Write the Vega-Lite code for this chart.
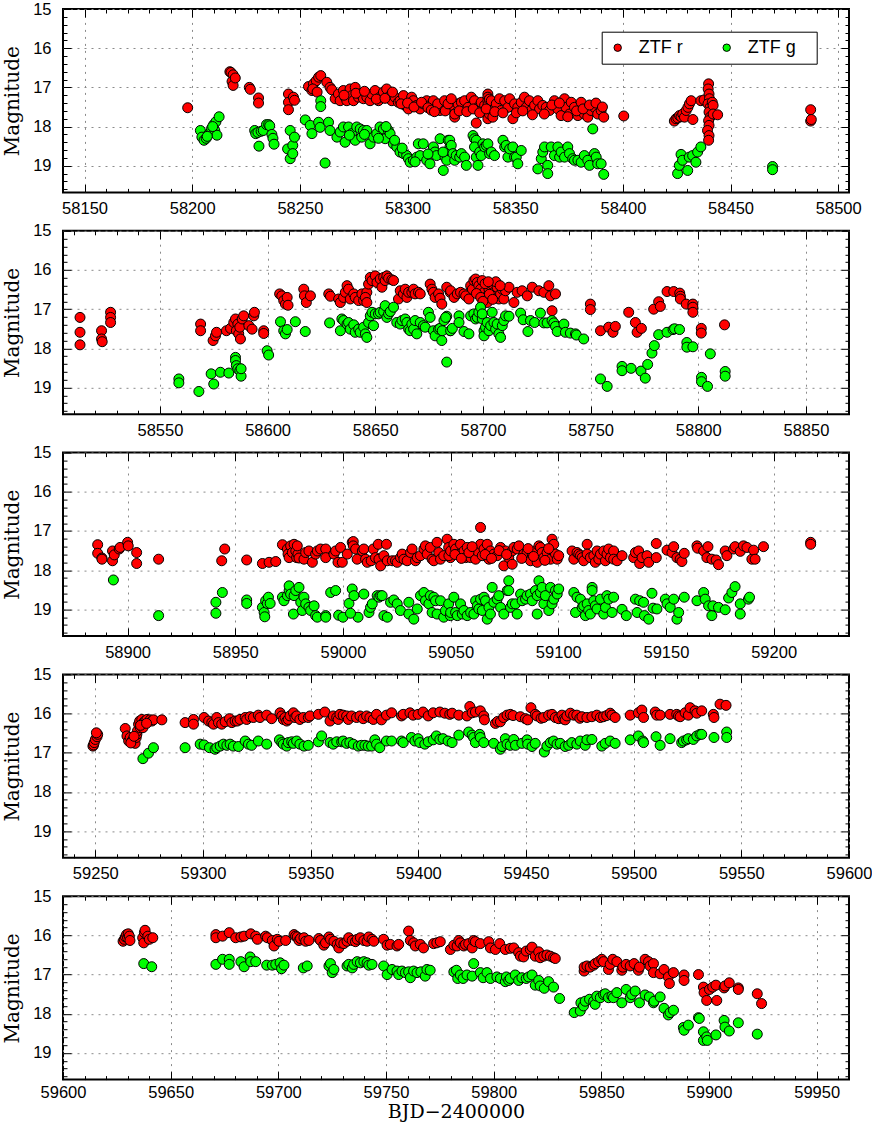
{
"$schema": "https://vega.github.io/schema/vega-lite/v6.json",
"background": "white",
"padding": {"left": 1, "top": 0, "right": 0, "bottom": 0},
"bounds": "flush",
"spacing": 37.8,
"datasets": {
"p1": [
{"d":58197.9,"m":17.52,"b":"ZTF r"},{"d":58217.5,"m":16.6,"b":"ZTF r"},{"d":58218,"m":16.62,"b":"ZTF r"},{"d":58219,"m":16.68,"b":"ZTF r"},{"d":58218.5,"m":16.85,"b":"ZTF r"},{"d":58219,"m":16.95,"b":"ZTF r"},{"d":58220,"m":16.76,"b":"ZTF r"},{"d":58226.5,"m":17.0,"b":"ZTF r"},{"d":58227,"m":17.05,"b":"ZTF r"},{"d":58230.8,"m":17.27,"b":"ZTF r"},{"d":58230.8,"m":17.4,"b":"ZTF r"},{"d":58244.7,"m":17.17,"b":"ZTF r"},{"d":58244.7,"m":17.38,"b":"ZTF r"},{"d":58244.7,"m":17.57,"b":"ZTF r"},{"d":58247,"m":17.25,"b":"ZTF r"},{"d":58247.5,"m":17.33,"b":"ZTF r"},{"d":58254,"m":16.98,"b":"ZTF r"},{"d":58255.6,"m":17.08,"b":"ZTF r"},{"d":58256.3,"m":16.91,"b":"ZTF r"},{"d":58257.6,"m":16.83,"b":"ZTF r"},{"d":58258.7,"m":16.74,"b":"ZTF r"},{"d":58259.7,"m":16.7,"b":"ZTF r"},{"d":58256,"m":17.04,"b":"ZTF r"},{"d":58258,"m":17.12,"b":"ZTF r"},{"d":58262.5,"m":16.87,"b":"ZTF r"},{"d":58264,"m":17.0,"b":"ZTF r"},{"d":58264.8,"m":17.06,"b":"ZTF r"},
{"d":58266.4,"m":17.29,"b":"ZTF r"},{"d":58267.9,"m":17.17,"b":"ZTF r"},{"d":58268.7,"m":17.34,"b":"ZTF r"},{"d":58270.2,"m":17.08,"b":"ZTF r"},{"d":58271,"m":17.25,"b":"ZTF r"},{"d":58271.8,"m":17.34,"b":"ZTF r"},{"d":58273.3,"m":17.04,"b":"ZTF r"},{"d":58274.1,"m":17.21,"b":"ZTF r"},{"d":58274.9,"m":17.34,"b":"ZTF r"},{"d":58275.7,"m":17.0,"b":"ZTF r"},{"d":58277.2,"m":17.25,"b":"ZTF r"},{"d":58278,"m":17.17,"b":"ZTF r"},{"d":58279.5,"m":17.29,"b":"ZTF r"},{"d":58281.1,"m":17.25,"b":"ZTF r"},{"d":58282.6,"m":17.34,"b":"ZTF r"},{"d":58283.4,"m":17.17,"b":"ZTF r"},{"d":58284.9,"m":17.08,"b":"ZTF r"},{"d":58286.5,"m":17.34,"b":"ZTF r"},{"d":58287.2,"m":17.25,"b":"ZTF r"},{"d":58288.8,"m":17.12,"b":"ZTF r"},{"d":58290.3,"m":17.04,"b":"ZTF r"},{"d":58291.9,"m":17.21,"b":"ZTF r"},{"d":58292.7,"m":17.34,"b":"ZTF r"},{"d":58294.2,"m":17.25,"b":"ZTF r"},{"d":58295.7,"m":17.38,"b":"ZTF r"},{"d":58296.5,"m":17.34,"b":"ZTF r"},{"d":58298.1,"m":17.21,"b":"ZTF r"},{"d":58298.8,"m":17.46,"b":"ZTF r"},{"d":58300.4,"m":17.55,"b":"ZTF r"},{"d":58301.9,"m":17.25,"b":"ZTF r"},{"d":58302.7,"m":17.34,"b":"ZTF r"},{"d":58304.3,"m":17.46,"b":"ZTF r"},{"d":58305.8,"m":17.55,"b":"ZTF r"},{"d":58307.3,"m":17.42,"b":"ZTF r"},{"d":58308.9,"m":17.34,"b":"ZTF r"},{"d":58310.4,"m":17.46,"b":"ZTF r"},{"d":58312,"m":17.34,"b":"ZTF r"},{"d":58313.5,"m":17.51,"b":"ZTF r"},{"d":58315.1,"m":17.59,"b":"ZTF r"},{"d":58316.6,"m":17.51,"b":"ZTF r"},{"d":58318.2,"m":17.38,"b":"ZTF r"},{"d":58319.7,"m":17.46,"b":"ZTF r"},
{"d":58270.5,"m":17.2,"b":"ZTF r"},{"d":58276,"m":17.15,"b":"ZTF r"},{"d":58280,"m":17.1,"b":"ZTF r"},{"d":58285.5,"m":17.3,"b":"ZTF r"},{"d":58289.5,"m":17.28,"b":"ZTF r"},{"d":58293,"m":17.12,"b":"ZTF r"},{"d":58297,"m":17.42,"b":"ZTF r"},{"d":58300,"m":17.4,"b":"ZTF r"},{"d":58303,"m":17.5,"b":"ZTF r"},{"d":58306.5,"m":17.38,"b":"ZTF r"},{"d":58309.5,"m":17.52,"b":"ZTF r"},{"d":58311,"m":17.58,"b":"ZTF r"},{"d":58314,"m":17.42,"b":"ZTF r"},{"d":58317.5,"m":17.6,"b":"ZTF r"},{"d":58312.5,"m":17.62,"b":"ZTF r"},
{"d":58321.9,"m":17.76,"b":"ZTF r"},{"d":58321.9,"m":17.68,"b":"ZTF r"},{"d":58323.4,"m":17.42,"b":"ZTF r"},{"d":58325,"m":17.38,"b":"ZTF r"},{"d":58326.5,"m":17.34,"b":"ZTF r"},{"d":58328.1,"m":17.51,"b":"ZTF r"},{"d":58329.6,"m":17.25,"b":"ZTF r"},{"d":58331.1,"m":17.34,"b":"ZTF r"},{"d":58331.9,"m":17.91,"b":"ZTF r"},{"d":58332.7,"m":17.51,"b":"ZTF r"},{"d":58334.2,"m":17.38,"b":"ZTF r"},{"d":58335.8,"m":17.46,"b":"ZTF r"},{"d":58337.3,"m":17.17,"b":"ZTF r"},{"d":58337.3,"m":17.25,"b":"ZTF r"},{"d":58337.3,"m":17.34,"b":"ZTF r"},{"d":58337.3,"m":17.46,"b":"ZTF r"},{"d":58337.3,"m":17.59,"b":"ZTF r"},{"d":58337.3,"m":17.72,"b":"ZTF r"},{"d":58337.3,"m":17.8,"b":"ZTF r"},{"d":58338,"m":17.3,"b":"ZTF r"},{"d":58338,"m":17.52,"b":"ZTF r"},{"d":58338,"m":17.68,"b":"ZTF r"},{"d":58338.9,"m":17.34,"b":"ZTF r"},{"d":58339.6,"m":17.76,"b":"ZTF r"},{"d":58341.2,"m":17.42,"b":"ZTF r"},{"d":58342.7,"m":17.29,"b":"ZTF r"},{"d":58343.5,"m":17.59,"b":"ZTF r"},{"d":58345.1,"m":17.34,"b":"ZTF r"},{"d":58346.6,"m":17.51,"b":"ZTF r"},{"d":58347.4,"m":17.29,"b":"ZTF r"},{"d":58348.9,"m":17.8,"b":"ZTF r"},{"d":58349.7,"m":17.42,"b":"ZTF r"},{"d":58351.2,"m":17.51,"b":"ZTF r"},{"d":58352.8,"m":17.38,"b":"ZTF r"},{"d":58354.3,"m":17.25,"b":"ZTF r"},{"d":58355.1,"m":17.51,"b":"ZTF r"},{"d":58356.6,"m":17.34,"b":"ZTF r"},{"d":58357.4,"m":17.59,"b":"ZTF r"},{"d":58359,"m":17.46,"b":"ZTF r"},{"d":58360.5,"m":17.34,"b":"ZTF r"},{"d":58361.3,"m":17.55,"b":"ZTF r"},{"d":58362.8,"m":17.46,"b":"ZTF r"},{"d":58364.4,"m":17.51,"b":"ZTF r"},{"d":58365.9,"m":17.59,"b":"ZTF r"},{"d":58368.2,"m":17.34,"b":"ZTF r"},{"d":58369.8,"m":17.55,"b":"ZTF r"},{"d":58371.3,"m":17.72,"b":"ZTF r"},{"d":58372.9,"m":17.29,"b":"ZTF r"},{"d":58373.6,"m":17.51,"b":"ZTF r"},{"d":58375.2,"m":17.68,"b":"ZTF r"},{"d":58376,"m":17.38,"b":"ZTF r"},{"d":58377.5,"m":17.51,"b":"ZTF r"},{"d":58379.1,"m":17.72,"b":"ZTF r"},{"d":58380.6,"m":17.38,"b":"ZTF r"},{"d":58382.1,"m":17.68,"b":"ZTF r"},{"d":58383.7,"m":17.76,"b":"ZTF r"},{"d":58385.2,"m":17.59,"b":"ZTF r"},{"d":58386.8,"m":17.51,"b":"ZTF r"},{"d":58388.3,"m":17.68,"b":"ZTF r"},{"d":58389.9,"m":17.59,"b":"ZTF r"},{"d":58391.1,"m":17.76,"b":"ZTF r"},
{"d":58317.2,"m":17.34,"b":"ZTF r"},{"d":58318.8,"m":17.42,"b":"ZTF r"},{"d":58320.3,"m":17.29,"b":"ZTF r"},{"d":58324,"m":17.6,"b":"ZTF r"},{"d":58327.5,"m":17.62,"b":"ZTF r"},{"d":58330.5,"m":17.55,"b":"ZTF r"},{"d":58333.5,"m":17.65,"b":"ZTF r"},{"d":58336.5,"m":17.55,"b":"ZTF r"},{"d":58340.5,"m":17.62,"b":"ZTF r"},{"d":58344.3,"m":17.65,"b":"ZTF r"},{"d":58350.5,"m":17.65,"b":"ZTF r"},{"d":58353.5,"m":17.6,"b":"ZTF r"},{"d":58358,"m":17.7,"b":"ZTF r"},{"d":58363.5,"m":17.68,"b":"ZTF r"},{"d":58367,"m":17.45,"b":"ZTF r"},{"d":58370.5,"m":17.4,"b":"ZTF r"},{"d":58374.4,"m":17.75,"b":"ZTF r"},{"d":58378.5,"m":17.6,"b":"ZTF r"},{"d":58381.5,"m":17.55,"b":"ZTF r"},{"d":58384.5,"m":17.45,"b":"ZTF r"},{"d":58387.5,"m":17.4,"b":"ZTF r"},{"d":58390.5,"m":17.5,"b":"ZTF r"},
{"d":58400.4,"m":17.73,"b":"ZTF r"},
{"d":58423.9,"m":17.86,"b":"ZTF r"},{"d":58424.7,"m":17.8,"b":"ZTF r"},{"d":58425.5,"m":17.78,"b":"ZTF r"},{"d":58426.3,"m":17.72,"b":"ZTF r"},{"d":58427,"m":17.75,"b":"ZTF r"},{"d":58427.8,"m":17.68,"b":"ZTF r"},{"d":58428.6,"m":17.76,"b":"ZTF r"},{"d":58429.4,"m":17.59,"b":"ZTF r"},{"d":58430.2,"m":17.51,"b":"ZTF r"},{"d":58430.9,"m":17.42,"b":"ZTF r"},{"d":58431.7,"m":17.34,"b":"ZTF r"},{"d":58432.5,"m":17.82,"b":"ZTF r"},
{"d":58436.2,"m":17.34,"b":"ZTF r"},{"d":58437.7,"m":17.32,"b":"ZTF r"},{"d":58439.8,"m":16.91,"b":"ZTF r"},{"d":58439.6,"m":17.04,"b":"ZTF r"},{"d":58440,"m":17.17,"b":"ZTF r"},{"d":58440.2,"m":17.29,"b":"ZTF r"},{"d":58439.5,"m":17.42,"b":"ZTF r"},{"d":58440.5,"m":17.51,"b":"ZTF r"},{"d":58440,"m":17.63,"b":"ZTF r"},{"d":58440.5,"m":17.76,"b":"ZTF r"},{"d":58439.8,"m":17.85,"b":"ZTF r"},{"d":58440,"m":17.97,"b":"ZTF r"},{"d":58439.3,"m":18.1,"b":"ZTF r"},{"d":58440,"m":18.23,"b":"ZTF r"},{"d":58439.8,"m":18.35,"b":"ZTF r"},{"d":58441.5,"m":17.38,"b":"ZTF r"},{"d":58441.9,"m":17.46,"b":"ZTF r"},{"d":58441.9,"m":17.68,"b":"ZTF r"},{"d":58444,"m":17.7,"b":"ZTF r"},
{"d":58487.2,"m":17.57,"b":"ZTF r"},{"d":58487.2,"m":17.86,"b":"ZTF r"},{"d":58487.5,"m":17.82,"b":"ZTF r"},
{"d":58203.8,"m":18.1,"b":"ZTF g"},{"d":58204.5,"m":18.27,"b":"ZTF g"},{"d":58205.5,"m":18.35,"b":"ZTF g"},{"d":58206.5,"m":18.3,"b":"ZTF g"},{"d":58207.5,"m":18.2,"b":"ZTF g"},{"d":58208.5,"m":18.15,"b":"ZTF g"},{"d":58209,"m":18.05,"b":"ZTF g"},{"d":58210,"m":17.95,"b":"ZTF g"},{"d":58210.5,"m":18.1,"b":"ZTF g"},{"d":58211,"m":17.88,"b":"ZTF g"},{"d":58211.5,"m":18.22,"b":"ZTF g"},{"d":58212.5,"m":17.75,"b":"ZTF g"},{"d":58207,"m":18.25,"b":"ZTF g"},{"d":58209.5,"m":18.0,"b":"ZTF g"},
{"d":58229,"m":18.1,"b":"ZTF g"},{"d":58229.5,"m":18.18,"b":"ZTF g"},{"d":58230.5,"m":18.15,"b":"ZTF g"},{"d":58231,"m":18.5,"b":"ZTF g"},{"d":58232,"m":18.12,"b":"ZTF g"},{"d":58233,"m":18.1,"b":"ZTF g"},{"d":58234.5,"m":17.95,"b":"ZTF g"},{"d":58235.5,"m":17.95,"b":"ZTF g"},{"d":58236,"m":17.98,"b":"ZTF g"},{"d":58237,"m":18.2,"b":"ZTF g"},{"d":58237.5,"m":18.3,"b":"ZTF g"},{"d":58238,"m":18.45,"b":"ZTF g"},
{"d":58244.3,"m":18.57,"b":"ZTF g"},{"d":58245.5,"m":18.82,"b":"ZTF g"},{"d":58245.5,"m":18.1,"b":"ZTF g"},{"d":58246.7,"m":18.48,"b":"ZTF g"},{"d":58246.7,"m":18.69,"b":"ZTF g"},{"d":58247.5,"m":18.27,"b":"ZTF g"},
{"d":58252.5,"m":17.83,"b":"ZTF g"},{"d":58254.8,"m":17.97,"b":"ZTF g"},{"d":58255.6,"m":18.18,"b":"ZTF g"},{"d":58258.7,"m":17.89,"b":"ZTF g"},{"d":58259.4,"m":18.02,"b":"ZTF g"},{"d":58259.7,"m":17.34,"b":"ZTF g"},{"d":58259.7,"m":17.49,"b":"ZTF g"},{"d":58261.7,"m":18.93,"b":"ZTF g"},{"d":58263.3,"m":17.89,"b":"ZTF g"},{"d":58264,"m":18.1,"b":"ZTF g"},
{"d":58267.2,"m":18.27,"b":"ZTF g"},{"d":58268.7,"m":18.14,"b":"ZTF g"},{"d":58270.2,"m":18.01,"b":"ZTF g"},{"d":58271,"m":18.4,"b":"ZTF g"},{"d":58272.6,"m":18.01,"b":"ZTF g"},{"d":58274.1,"m":18.18,"b":"ZTF g"},{"d":58275.7,"m":18.35,"b":"ZTF g"},{"d":58276.4,"m":18.01,"b":"ZTF g"},{"d":58278,"m":18.06,"b":"ZTF g"},{"d":58278.7,"m":18.27,"b":"ZTF g"},{"d":58279.5,"m":18.1,"b":"ZTF g"},{"d":58281.1,"m":18.1,"b":"ZTF g"},{"d":58282.6,"m":18.44,"b":"ZTF g"},{"d":58284.2,"m":18.27,"b":"ZTF g"},{"d":58285.7,"m":18.18,"b":"ZTF g"},{"d":58287.2,"m":18.01,"b":"ZTF g"},{"d":58288.8,"m":18.06,"b":"ZTF g"},{"d":58289.6,"m":18.31,"b":"ZTF g"},{"d":58291.1,"m":18.1,"b":"ZTF g"},{"d":58291.9,"m":18.18,"b":"ZTF g"},{"d":58293.4,"m":18.44,"b":"ZTF g"},{"d":58295,"m":18.52,"b":"ZTF g"},{"d":58296.5,"m":18.65,"b":"ZTF g"},{"d":58298.1,"m":18.69,"b":"ZTF g"},{"d":58299.6,"m":18.74,"b":"ZTF g"},{"d":58300.4,"m":18.82,"b":"ZTF g"},{"d":58301.2,"m":18.91,"b":"ZTF g"},{"d":58302.7,"m":18.86,"b":"ZTF g"},{"d":58304.3,"m":18.78,"b":"ZTF g"},{"d":58305,"m":18.44,"b":"ZTF g"},{"d":58305.8,"m":18.74,"b":"ZTF g"},{"d":58307.3,"m":18.44,"b":"ZTF g"},{"d":58308.9,"m":18.86,"b":"ZTF g"},{"d":58310.4,"m":18.95,"b":"ZTF g"},{"d":58312,"m":18.52,"b":"ZTF g"},{"d":58312.7,"m":18.65,"b":"ZTF g"},{"d":58313.5,"m":18.74,"b":"ZTF g"},{"d":58315.1,"m":18.31,"b":"ZTF g"},{"d":58316.6,"m":19.12,"b":"ZTF g"},{"d":58317.4,"m":18.78,"b":"ZTF g"},{"d":58318.2,"m":18.86,"b":"ZTF g"},{"d":58318.9,"m":18.35,"b":"ZTF g"},{"d":58319.7,"m":18.52,"b":"ZTF g"},
{"d":58273,"m":18.22,"b":"ZTF g"},{"d":58280,"m":18.2,"b":"ZTF g"},{"d":58286.5,"m":18.3,"b":"ZTF g"},{"d":58290,"m":18.0,"b":"ZTF g"},{"d":58294,"m":18.35,"b":"ZTF g"},{"d":58297.5,"m":18.55,"b":"ZTF g"},{"d":58303.5,"m":18.9,"b":"ZTF g"},{"d":58309.5,"m":18.7,"b":"ZTF g"},
{"d":58316.5,"m":18.65,"b":"ZTF g"},{"d":58319.6,"m":18.35,"b":"ZTF g"},{"d":58320.3,"m":18.48,"b":"ZTF g"},{"d":58321.1,"m":18.69,"b":"ZTF g"},{"d":58321.9,"m":18.86,"b":"ZTF g"},{"d":58322.6,"m":18.74,"b":"ZTF g"},{"d":58324.2,"m":18.78,"b":"ZTF g"},{"d":58325,"m":18.69,"b":"ZTF g"},{"d":58326.5,"m":18.78,"b":"ZTF g"},{"d":58327.3,"m":18.99,"b":"ZTF g"},{"d":58330.4,"m":18.23,"b":"ZTF g"},{"d":58331.1,"m":18.31,"b":"ZTF g"},{"d":58331.9,"m":18.35,"b":"ZTF g"},{"d":58331.1,"m":18.52,"b":"ZTF g"},{"d":58331.9,"m":18.78,"b":"ZTF g"},{"d":58332.7,"m":18.99,"b":"ZTF g"},{"d":58333.5,"m":18.65,"b":"ZTF g"},{"d":58334.2,"m":18.74,"b":"ZTF g"},{"d":58335,"m":18.44,"b":"ZTF g"},{"d":58335.8,"m":18.52,"b":"ZTF g"},{"d":58336.6,"m":18.48,"b":"ZTF g"},{"d":58337.3,"m":18.44,"b":"ZTF g"},{"d":58338.1,"m":18.69,"b":"ZTF g"},{"d":58338.9,"m":18.65,"b":"ZTF g"},{"d":58340.4,"m":18.74,"b":"ZTF g"},{"d":58344.3,"m":18.35,"b":"ZTF g"},{"d":58345.1,"m":18.52,"b":"ZTF g"},{"d":58345.8,"m":18.48,"b":"ZTF g"},{"d":58346.6,"m":18.78,"b":"ZTF g"},{"d":58347.4,"m":18.57,"b":"ZTF g"},{"d":58348.9,"m":18.52,"b":"ZTF g"},{"d":58349.7,"m":18.78,"b":"ZTF g"},{"d":58350.5,"m":18.78,"b":"ZTF g"},{"d":58351.2,"m":18.95,"b":"ZTF g"},{"d":58352.8,"m":18.61,"b":"ZTF g"},{"d":58360.5,"m":19.08,"b":"ZTF g"},{"d":58362.1,"m":18.82,"b":"ZTF g"},{"d":58362.8,"m":18.65,"b":"ZTF g"},{"d":58363.6,"m":18.52,"b":"ZTF g"},{"d":58365.1,"m":18.99,"b":"ZTF g"},{"d":58365.1,"m":19.2,"b":"ZTF g"},{"d":58366.7,"m":18.52,"b":"ZTF g"},{"d":58368.2,"m":18.74,"b":"ZTF g"},{"d":58369.8,"m":18.52,"b":"ZTF g"},{"d":58370.6,"m":18.78,"b":"ZTF g"},{"d":58371.3,"m":18.65,"b":"ZTF g"},{"d":58372.9,"m":18.78,"b":"ZTF g"},{"d":58374.4,"m":18.52,"b":"ZTF g"},{"d":58375.2,"m":18.69,"b":"ZTF g"},{"d":58376.7,"m":18.82,"b":"ZTF g"},{"d":58377.5,"m":18.86,"b":"ZTF g"},{"d":58379.1,"m":18.86,"b":"ZTF g"},{"d":58380.6,"m":18.91,"b":"ZTF g"},{"d":58382.1,"m":18.74,"b":"ZTF g"},{"d":58383.7,"m":18.86,"b":"ZTF g"},{"d":58384.5,"m":18.99,"b":"ZTF g"},{"d":58386,"m":18.06,"b":"ZTF g"},{"d":58386.8,"m":18.69,"b":"ZTF g"},{"d":58387.6,"m":18.78,"b":"ZTF g"},{"d":58388.3,"m":18.95,"b":"ZTF g"},{"d":58389.9,"m":18.95,"b":"ZTF g"},{"d":58391.1,"m":19.22,"b":"ZTF g"},
{"d":58425.4,"m":19.2,"b":"ZTF g"},{"d":58426.2,"m":18.99,"b":"ZTF g"},{"d":58427,"m":18.71,"b":"ZTF g"},{"d":58427.7,"m":18.86,"b":"ZTF g"},{"d":58430.1,"m":19.12,"b":"ZTF g"},{"d":58430.8,"m":18.78,"b":"ZTF g"},{"d":58432.4,"m":18.74,"b":"ZTF g"},{"d":58433.9,"m":18.91,"b":"ZTF g"},{"d":58434.7,"m":18.65,"b":"ZTF g"},{"d":58436.2,"m":18.52,"b":"ZTF g"},{"d":58469.5,"m":19.02,"b":"ZTF g"},{"d":58469.5,"m":19.1,"b":"ZTF g"}
],
"p2": [
{"d":58512.9,"m":17.21,"b":"ZTF r"},{"d":58512.9,"m":17.59,"b":"ZTF r"},{"d":58512.9,"m":17.91,"b":"ZTF r"},{"d":58522.9,"m":17.55,"b":"ZTF r"},{"d":58522.9,"m":17.76,"b":"ZTF r"},{"d":58523.2,"m":17.83,"b":"ZTF r"},{"d":58527.1,"m":17.08,"b":"ZTF r"},{"d":58527.1,"m":17.21,"b":"ZTF r"},{"d":58527.1,"m":17.34,"b":"ZTF r"},{"d":58568.9,"m":17.38,"b":"ZTF r"},{"d":58568.9,"m":17.55,"b":"ZTF r"},{"d":58574.7,"m":17.8,"b":"ZTF r"},{"d":58575.8,"m":17.68,"b":"ZTF r"},{"d":58576.3,"m":17.59,"b":"ZTF r"},{"d":58580.9,"m":17.55,"b":"ZTF r"},{"d":58582.8,"m":17.49,"b":"ZTF r"},{"d":58584.3,"m":17.34,"b":"ZTF r"},{"d":58585.1,"m":17.25,"b":"ZTF r"},{"d":58586.2,"m":17.38,"b":"ZTF r"},{"d":58585.5,"m":17.55,"b":"ZTF r"},{"d":58586.6,"m":17.63,"b":"ZTF r"},{"d":58587.4,"m":17.76,"b":"ZTF r"},{"d":58587.1,"m":17.46,"b":"ZTF r"},{"d":58588.2,"m":17.25,"b":"ZTF r"},{"d":58588.9,"m":17.17,"b":"ZTF r"},{"d":58591.3,"m":17.42,"b":"ZTF r"},{"d":58592.8,"m":17.51,"b":"ZTF r"},{"d":58593.6,"m":17.17,"b":"ZTF r"},{"d":58593.9,"m":17.08,"b":"ZTF r"},{"d":58598.2,"m":17.55,"b":"ZTF r"},{"d":58598.2,"m":17.62,"b":"ZTF r"},
{"d":58605.6,"m":16.61,"b":"ZTF r"},{"d":58606.6,"m":16.66,"b":"ZTF r"},{"d":58607.5,"m":16.78,"b":"ZTF r"},{"d":58608.3,"m":16.87,"b":"ZTF r"},{"d":58609.1,"m":16.7,"b":"ZTF r"},{"d":58609.5,"m":16.9,"b":"ZTF r"},{"d":58616.8,"m":16.49,"b":"ZTF r"},{"d":58617.1,"m":16.66,"b":"ZTF r"},{"d":58618,"m":16.83,"b":"ZTF r"},{"d":58619.9,"m":16.66,"b":"ZTF r"},{"d":58628.4,"m":16.61,"b":"ZTF r"},{"d":58629.2,"m":16.67,"b":"ZTF r"},
{"d":58633,"m":16.74,"b":"ZTF r"},{"d":58633.8,"m":16.83,"b":"ZTF r"},{"d":58635.3,"m":16.7,"b":"ZTF r"},{"d":58636.1,"m":16.57,"b":"ZTF r"},{"d":58636.9,"m":16.4,"b":"ZTF r"},{"d":58637.6,"m":16.49,"b":"ZTF r"},{"d":58638.4,"m":16.74,"b":"ZTF r"},{"d":58640,"m":16.61,"b":"ZTF r"},{"d":58640.7,"m":16.7,"b":"ZTF r"},{"d":58642.3,"m":16.78,"b":"ZTF r"},{"d":58643.8,"m":16.61,"b":"ZTF r"},{"d":58644.6,"m":16.78,"b":"ZTF r"},{"d":58646.1,"m":16.57,"b":"ZTF r"},{"d":58645.4,"m":16.7,"b":"ZTF r"},{"d":58646.1,"m":16.83,"b":"ZTF r"},
{"d":58646.9,"m":16.36,"b":"ZTF r"},{"d":58647.7,"m":16.19,"b":"ZTF r"},{"d":58648.5,"m":16.27,"b":"ZTF r"},{"d":58650,"m":16.15,"b":"ZTF r"},{"d":58650.8,"m":16.32,"b":"ZTF r"},{"d":58652.3,"m":16.23,"b":"ZTF r"},{"d":58653.1,"m":16.44,"b":"ZTF r"},{"d":58653.9,"m":16.19,"b":"ZTF r"},{"d":58654.6,"m":16.27,"b":"ZTF r"},{"d":58655.4,"m":16.15,"b":"ZTF r"},{"d":58656.2,"m":16.21,"b":"ZTF r"},{"d":58657.7,"m":16.25,"b":"ZTF r"},{"d":58658.5,"m":16.27,"b":"ZTF r"},
{"d":58660.8,"m":16.74,"b":"ZTF r"},{"d":58661.6,"m":16.53,"b":"ZTF r"},{"d":58663.1,"m":16.61,"b":"ZTF r"},{"d":58663.9,"m":16.49,"b":"ZTF r"},{"d":58664.7,"m":16.7,"b":"ZTF r"},{"d":58665.5,"m":16.57,"b":"ZTF r"},{"d":58667,"m":16.57,"b":"ZTF r"},{"d":58667.8,"m":16.49,"b":"ZTF r"},{"d":58668.5,"m":16.61,"b":"ZTF r"},{"d":58670.1,"m":16.57,"b":"ZTF r"},{"d":58670.9,"m":16.61,"b":"ZTF r"},
{"d":58675.5,"m":16.36,"b":"ZTF r"},{"d":58676.3,"m":16.49,"b":"ZTF r"},{"d":58677,"m":16.57,"b":"ZTF r"},{"d":58677.8,"m":16.7,"b":"ZTF r"},{"d":58679.4,"m":16.61,"b":"ZTF r"},{"d":58680.1,"m":16.72,"b":"ZTF r"},{"d":58680.9,"m":16.87,"b":"ZTF r"},{"d":58683.2,"m":16.44,"b":"ZTF r"},{"d":58684.8,"m":16.57,"b":"ZTF r"},
{"d":58685,"m":16.53,"b":"ZTF r"},{"d":58686.6,"m":16.7,"b":"ZTF r"},{"d":58688.1,"m":16.61,"b":"ZTF r"},{"d":58689.6,"m":16.57,"b":"ZTF r"},{"d":58691.2,"m":16.61,"b":"ZTF r"},{"d":58692,"m":16.66,"b":"ZTF r"},{"d":58693.5,"m":16.74,"b":"ZTF r"},{"d":58694.3,"m":16.4,"b":"ZTF r"},{"d":58695.1,"m":16.49,"b":"ZTF r"},{"d":58695.8,"m":16.27,"b":"ZTF r"},{"d":58696.6,"m":16.23,"b":"ZTF r"},{"d":58697.4,"m":16.32,"b":"ZTF r"},{"d":58698.1,"m":16.4,"b":"ZTF r"},{"d":58698.9,"m":16.49,"b":"ZTF r"},{"d":58699.7,"m":16.27,"b":"ZTF r"},{"d":58700.5,"m":16.57,"b":"ZTF r"},{"d":58701.2,"m":16.7,"b":"ZTF r"},{"d":58702,"m":16.83,"b":"ZTF r"},{"d":58702.8,"m":16.49,"b":"ZTF r"},{"d":58703.6,"m":16.4,"b":"ZTF r"},{"d":58704.3,"m":16.36,"b":"ZTF r"},{"d":58705.1,"m":16.57,"b":"ZTF r"},{"d":58705.9,"m":16.66,"b":"ZTF r"},{"d":58706.6,"m":16.44,"b":"ZTF r"},{"d":58707.4,"m":16.74,"b":"ZTF r"},{"d":58708.2,"m":16.61,"b":"ZTF r"},{"d":58709,"m":16.49,"b":"ZTF r"},{"d":58709.7,"m":16.74,"b":"ZTF r"},{"d":58710.5,"m":16.53,"b":"ZTF r"},{"d":58712.1,"m":16.44,"b":"ZTF r"},{"d":58714.4,"m":16.83,"b":"ZTF r"},{"d":58715.9,"m":16.57,"b":"ZTF r"},{"d":58718.2,"m":16.53,"b":"ZTF r"},{"d":58720.6,"m":16.66,"b":"ZTF r"},{"d":58722.9,"m":16.44,"b":"ZTF r"},{"d":58726,"m":16.53,"b":"ZTF r"},{"d":58728.3,"m":16.57,"b":"ZTF r"},{"d":58730.6,"m":16.4,"b":"ZTF r"},{"d":58731.4,"m":16.66,"b":"ZTF r"},{"d":58733.7,"m":16.61,"b":"ZTF r"},{"d":58732.1,"m":17.04,"b":"ZTF r"},
{"d":58697,"m":16.6,"b":"ZTF r"},{"d":58699,"m":16.7,"b":"ZTF r"},{"d":58701,"m":16.35,"b":"ZTF r"},{"d":58703,"m":16.62,"b":"ZTF r"},{"d":58704.5,"m":16.75,"b":"ZTF r"},{"d":58706,"m":16.3,"b":"ZTF r"},{"d":58708,"m":16.4,"b":"ZTF r"},{"d":58700,"m":16.8,"b":"ZTF r"},{"d":58702.5,"m":16.3,"b":"ZTF r"},
{"d":58749.9,"m":16.87,"b":"ZTF r"},{"d":58749.9,"m":17.01,"b":"ZTF r"},{"d":58754.6,"m":17.55,"b":"ZTF r"},{"d":58758.4,"m":17.46,"b":"ZTF r"},{"d":58760.4,"m":17.59,"b":"ZTF r"},{"d":58761.5,"m":17.44,"b":"ZTF r"},{"d":58767.7,"m":17.08,"b":"ZTF r"},{"d":58770.8,"m":17.34,"b":"ZTF r"},{"d":58771.6,"m":17.59,"b":"ZTF r"},{"d":58773.6,"m":17.49,"b":"ZTF r"},{"d":58779.3,"m":17.0,"b":"ZTF r"},{"d":58781.6,"m":16.81,"b":"ZTF r"},{"d":58782.4,"m":16.93,"b":"ZTF r"},{"d":58785.5,"m":16.55,"b":"ZTF r"},{"d":58788.6,"m":16.55,"b":"ZTF r"},{"d":58791.4,"m":16.59,"b":"ZTF r"},{"d":58791.7,"m":16.67,"b":"ZTF r"},{"d":58791.7,"m":16.74,"b":"ZTF r"},{"d":58794.4,"m":16.87,"b":"ZTF r"},{"d":58797.5,"m":16.87,"b":"ZTF r"},{"d":58797.5,"m":16.95,"b":"ZTF r"},{"d":58797.5,"m":17.08,"b":"ZTF r"},{"d":58801.4,"m":17.49,"b":"ZTF r"},{"d":58801.4,"m":17.61,"b":"ZTF r"},{"d":58812.2,"m":17.4,"b":"ZTF r"},
{"d":58558.8,"m":18.78,"b":"ZTF g"},{"d":58558.8,"m":18.88,"b":"ZTF g"},{"d":58568.1,"m":19.1,"b":"ZTF g"},{"d":58573.8,"m":18.65,"b":"ZTF g"},{"d":58575,"m":18.91,"b":"ZTF g"},{"d":58578.1,"m":18.61,"b":"ZTF g"},{"d":58582,"m":18.63,"b":"ZTF g"},{"d":58585.1,"m":18.23,"b":"ZTF g"},{"d":58585.1,"m":18.31,"b":"ZTF g"},{"d":58585.5,"m":18.44,"b":"ZTF g"},{"d":58586.2,"m":18.52,"b":"ZTF g"},{"d":58587.1,"m":18.57,"b":"ZTF g"},{"d":58587.7,"m":18.71,"b":"ZTF g"},{"d":58587.7,"m":18.52,"b":"ZTF g"},{"d":58599.8,"m":18.06,"b":"ZTF g"},{"d":58600.5,"m":18.17,"b":"ZTF g"},
{"d":58606,"m":17.32,"b":"ZTF g"},{"d":58607.5,"m":17.55,"b":"ZTF g"},{"d":58608.3,"m":17.63,"b":"ZTF g"},{"d":58609.1,"m":17.52,"b":"ZTF g"},{"d":58612.9,"m":17.32,"b":"ZTF g"},{"d":58617.5,"m":17.57,"b":"ZTF g"},{"d":58628.8,"m":17.35,"b":"ZTF g"},
{"d":58633.8,"m":17.55,"b":"ZTF g"},{"d":58634.5,"m":17.25,"b":"ZTF g"},{"d":58635.3,"m":17.29,"b":"ZTF g"},{"d":58636.9,"m":17.38,"b":"ZTF g"},{"d":58637.6,"m":17.34,"b":"ZTF g"},{"d":58638.4,"m":17.51,"b":"ZTF g"},{"d":58640,"m":17.4,"b":"ZTF g"},{"d":58640.7,"m":17.59,"b":"ZTF g"},{"d":58642.3,"m":17.51,"b":"ZTF g"},{"d":58643,"m":17.59,"b":"ZTF g"},{"d":58644.6,"m":17.46,"b":"ZTF g"},{"d":58645.4,"m":17.63,"b":"ZTF g"},{"d":58646.1,"m":17.72,"b":"ZTF g"},{"d":58646.9,"m":17.34,"b":"ZTF g"},{"d":58647.7,"m":17.17,"b":"ZTF g"},{"d":58648.5,"m":17.08,"b":"ZTF g"},{"d":58649.2,"m":17.42,"b":"ZTF g"},{"d":58650,"m":17.12,"b":"ZTF g"},{"d":58651.5,"m":17.12,"b":"ZTF g"},{"d":58652.3,"m":17.08,"b":"ZTF g"},{"d":58653.9,"m":17.06,"b":"ZTF g"},{"d":58654.6,"m":16.91,"b":"ZTF g"},{"d":58655.4,"m":17.21,"b":"ZTF g"},{"d":58656.2,"m":17.12,"b":"ZTF g"},{"d":58657,"m":17.06,"b":"ZTF g"},{"d":58658.5,"m":16.95,"b":"ZTF g"},
{"d":58660,"m":17.34,"b":"ZTF g"},{"d":58661.6,"m":17.38,"b":"ZTF g"},{"d":58662.4,"m":17.29,"b":"ZTF g"},{"d":58663.9,"m":17.25,"b":"ZTF g"},{"d":58664.7,"m":17.34,"b":"ZTF g"},{"d":58665.5,"m":17.51,"b":"ZTF g"},{"d":58666.2,"m":17.55,"b":"ZTF g"},{"d":58667,"m":17.38,"b":"ZTF g"},{"d":58667.8,"m":17.51,"b":"ZTF g"},{"d":58668.5,"m":17.29,"b":"ZTF g"},{"d":58669.3,"m":17.63,"b":"ZTF g"},{"d":58670.9,"m":17.34,"b":"ZTF g"},{"d":58672.4,"m":17.42,"b":"ZTF g"},{"d":58673.2,"m":17.46,"b":"ZTF g"},{"d":58674.7,"m":17.08,"b":"ZTF g"},{"d":58675.5,"m":17.21,"b":"ZTF g"},{"d":58677,"m":17.55,"b":"ZTF g"},{"d":58677.8,"m":17.68,"b":"ZTF g"},{"d":58679.4,"m":17.51,"b":"ZTF g"},{"d":58680.1,"m":17.49,"b":"ZTF g"},{"d":58680.9,"m":17.8,"b":"ZTF g"},{"d":58682.5,"m":17.25,"b":"ZTF g"},{"d":58683.2,"m":17.18,"b":"ZTF g"},{"d":58683.2,"m":18.35,"b":"ZTF g"},{"d":58684.8,"m":17.55,"b":"ZTF g"},
{"d":58681.1,"m":17.55,"b":"ZTF g"},{"d":58681.9,"m":17.29,"b":"ZTF g"},{"d":58682.7,"m":17.21,"b":"ZTF g"},{"d":58685,"m":17.55,"b":"ZTF g"},{"d":58685.8,"m":17.49,"b":"ZTF g"},{"d":58688.9,"m":17.17,"b":"ZTF g"},{"d":58688.9,"m":17.34,"b":"ZTF g"},{"d":58691.2,"m":17.57,"b":"ZTF g"},{"d":58693.5,"m":17.63,"b":"ZTF g"},{"d":58694.3,"m":17.17,"b":"ZTF g"},{"d":58695.8,"m":17.12,"b":"ZTF g"},{"d":58696.6,"m":17.25,"b":"ZTF g"},{"d":58697.4,"m":17.21,"b":"ZTF g"},{"d":58698.1,"m":17.08,"b":"ZTF g"},{"d":58698.9,"m":16.95,"b":"ZTF g"},{"d":58699.7,"m":17.25,"b":"ZTF g"},{"d":58699.7,"m":17.12,"b":"ZTF g"},{"d":58700.5,"m":17.55,"b":"ZTF g"},{"d":58700.5,"m":17.68,"b":"ZTF g"},{"d":58701.2,"m":17.46,"b":"ZTF g"},{"d":58702,"m":17.34,"b":"ZTF g"},{"d":58702.8,"m":17.55,"b":"ZTF g"},{"d":58703.6,"m":17.42,"b":"ZTF g"},{"d":58704.3,"m":17.08,"b":"ZTF g"},{"d":58705.1,"m":17.34,"b":"ZTF g"},{"d":58705.9,"m":17.51,"b":"ZTF g"},{"d":58706.6,"m":17.38,"b":"ZTF g"},{"d":58707.4,"m":17.63,"b":"ZTF g"},{"d":58708.2,"m":17.72,"b":"ZTF g"},{"d":58709,"m":17.42,"b":"ZTF g"},{"d":58709.7,"m":17.29,"b":"ZTF g"},{"d":58710.5,"m":17.17,"b":"ZTF g"},{"d":58712.1,"m":17.18,"b":"ZTF g"},{"d":58717.5,"m":17.1,"b":"ZTF g"},{"d":58718.7,"m":17.27,"b":"ZTF g"},{"d":58720.9,"m":17.57,"b":"ZTF g"},{"d":58722.1,"m":17.29,"b":"ZTF g"},{"d":58724,"m":17.34,"b":"ZTF g"},{"d":58726.7,"m":17.1,"b":"ZTF g"},{"d":58728.3,"m":17.35,"b":"ZTF g"},{"d":58729.8,"m":17.35,"b":"ZTF g"},{"d":58732.1,"m":17.29,"b":"ZTF g"},{"d":58732.9,"m":17.35,"b":"ZTF g"},{"d":58733.7,"m":17.44,"b":"ZTF g"},{"d":58734.5,"m":17.57,"b":"ZTF g"},{"d":58737.6,"m":17.38,"b":"ZTF g"},{"d":58738.3,"m":17.59,"b":"ZTF g"},{"d":58740.6,"m":17.61,"b":"ZTF g"},{"d":58743,"m":17.63,"b":"ZTF g"},{"d":58743.4,"m":17.66,"b":"ZTF g"},{"d":58746.8,"m":17.76,"b":"ZTF g"},
{"d":58754.6,"m":18.78,"b":"ZTF g"},{"d":58757.7,"m":18.97,"b":"ZTF g"},{"d":58764.6,"m":18.46,"b":"ZTF g"},{"d":58764.6,"m":18.57,"b":"ZTF g"},{"d":58768.8,"m":18.51,"b":"ZTF g"},{"d":58773.4,"m":18.58,"b":"ZTF g"},{"d":58775.4,"m":18.76,"b":"ZTF g"},{"d":58776.5,"m":18.41,"b":"ZTF g"},{"d":58778.5,"m":18.12,"b":"ZTF g"},{"d":58779.6,"m":17.93,"b":"ZTF g"},{"d":58781.6,"m":17.65,"b":"ZTF g"},{"d":58785.5,"m":17.59,"b":"ZTF g"},{"d":58788.3,"m":17.52,"b":"ZTF g"},{"d":58789,"m":17.5,"b":"ZTF g"},{"d":58791.3,"m":17.52,"b":"ZTF g"},{"d":58794.7,"m":17.85,"b":"ZTF g"},{"d":58794.7,"m":17.97,"b":"ZTF g"},{"d":58797.5,"m":17.96,"b":"ZTF g"},{"d":58801.5,"m":18.74,"b":"ZTF g"},{"d":58801.5,"m":18.85,"b":"ZTF g"},{"d":58804.3,"m":18.97,"b":"ZTF g"},{"d":58805.6,"m":18.14,"b":"ZTF g"},{"d":58812.5,"m":18.59,"b":"ZTF g"},{"d":58812.5,"m":18.71,"b":"ZTF g"}
],
"p3": [
{"d":58886.1,"m":17.35,"b":"ZTF r"},{"d":58886.1,"m":17.57,"b":"ZTF r"},{"d":58888.1,"m":17.69,"b":"ZTF r"},{"d":58888.1,"m":17.72,"b":"ZTF r"},{"d":58893,"m":17.51,"b":"ZTF r"},{"d":58893,"m":17.76,"b":"ZTF r"},{"d":58893.8,"m":17.61,"b":"ZTF r"},{"d":58896.1,"m":17.46,"b":"ZTF r"},{"d":58896.5,"m":17.42,"b":"ZTF r"},{"d":58900,"m":17.29,"b":"ZTF r"},{"d":58900.3,"m":17.38,"b":"ZTF r"},{"d":58904.2,"m":17.55,"b":"ZTF r"},{"d":58904.2,"m":17.83,"b":"ZTF r"},{"d":58914.4,"m":17.72,"b":"ZTF r"},{"d":58943.7,"m":17.76,"b":"ZTF r"},{"d":58945.1,"m":17.46,"b":"ZTF r"},{"d":58955.3,"m":17.74,"b":"ZTF r"},{"d":58962.6,"m":17.83,"b":"ZTF r"},{"d":58965.7,"m":17.8,"b":"ZTF r"},{"d":58968.8,"m":17.78,"b":"ZTF r"},
{"d":58971.9,"m":17.35,"b":"ZTF r"},{"d":58974.2,"m":17.46,"b":"ZTF r"},{"d":58974.5,"m":17.59,"b":"ZTF r"},{"d":58975,"m":17.68,"b":"ZTF r"},{"d":58975.7,"m":17.38,"b":"ZTF r"},{"d":58976.5,"m":17.55,"b":"ZTF r"},{"d":58977.3,"m":17.34,"b":"ZTF r"},{"d":58978.1,"m":17.51,"b":"ZTF r"},{"d":58978.5,"m":17.68,"b":"ZTF r"},{"d":58979.1,"m":17.59,"b":"ZTF r"},{"d":58979.6,"m":17.69,"b":"ZTF r"},{"d":58978.8,"m":17.38,"b":"ZTF r"},
{"d":58981.9,"m":17.72,"b":"ZTF r"},{"d":58982.7,"m":17.55,"b":"ZTF r"},{"d":58984.2,"m":17.51,"b":"ZTF r"},{"d":58985.8,"m":17.8,"b":"ZTF r"},{"d":58987.3,"m":17.59,"b":"ZTF r"},{"d":58988.1,"m":17.51,"b":"ZTF r"},{"d":58989.6,"m":17.46,"b":"ZTF r"},{"d":58992,"m":17.46,"b":"ZTF r"},{"d":58992,"m":17.68,"b":"ZTF r"},{"d":58995.8,"m":17.59,"b":"ZTF r"},{"d":58996.6,"m":17.51,"b":"ZTF r"},{"d":58997.7,"m":17.8,"b":"ZTF r"},{"d":58998.9,"m":17.42,"b":"ZTF r"},{"d":58999.7,"m":17.8,"b":"ZTF r"},{"d":59002,"m":17.59,"b":"ZTF r"},{"d":59004.3,"m":17.29,"b":"ZTF r"},{"d":59004.8,"m":17.27,"b":"ZTF r"},{"d":59004.8,"m":17.38,"b":"ZTF r"},{"d":59005.9,"m":17.46,"b":"ZTF r"},{"d":59006.6,"m":17.72,"b":"ZTF r"},{"d":59009,"m":17.51,"b":"ZTF r"},{"d":59009.7,"m":17.46,"b":"ZTF r"},{"d":59010.5,"m":17.72,"b":"ZTF r"},{"d":59011.3,"m":17.8,"b":"ZTF r"},{"d":59013.1,"m":17.76,"b":"ZTF r"},{"d":59014.1,"m":17.46,"b":"ZTF r"},{"d":59015.1,"m":17.68,"b":"ZTF r"},{"d":59016.7,"m":17.72,"b":"ZTF r"},{"d":59016.4,"m":17.34,"b":"ZTF r"},{"d":59017.5,"m":17.89,"b":"ZTF r"},{"d":59019,"m":17.63,"b":"ZTF r"},{"d":59020.2,"m":17.34,"b":"ZTF r"},{"d":59020.6,"m":17.76,"b":"ZTF r"},{"d":59022.9,"m":17.76,"b":"ZTF r"},{"d":59024.4,"m":17.76,"b":"ZTF r"},{"d":59025.2,"m":17.8,"b":"ZTF r"},{"d":59026.7,"m":17.68,"b":"ZTF r"},{"d":59027.5,"m":17.59,"b":"ZTF r"},{"d":59028.3,"m":17.72,"b":"ZTF r"},{"d":59029.8,"m":17.76,"b":"ZTF r"},{"d":59031.4,"m":17.55,"b":"ZTF r"},{"d":59032.1,"m":17.46,"b":"ZTF r"},{"d":59033.7,"m":17.76,"b":"ZTF r"},{"d":59034.5,"m":17.68,"b":"ZTF r"},{"d":59036,"m":17.63,"b":"ZTF r"},{"d":59037.6,"m":17.46,"b":"ZTF r"},{"d":59038.3,"m":17.38,"b":"ZTF r"},{"d":59039.1,"m":17.59,"b":"ZTF r"},{"d":59040.6,"m":17.42,"b":"ZTF r"},{"d":59041.4,"m":17.72,"b":"ZTF r"},{"d":59042.2,"m":17.76,"b":"ZTF r"},{"d":59043.7,"m":17.29,"b":"ZTF r"},{"d":59044.5,"m":17.55,"b":"ZTF r"},{"d":59045.3,"m":17.72,"b":"ZTF r"},{"d":59046.8,"m":17.63,"b":"ZTF r"},{"d":59048.4,"m":17.21,"b":"ZTF r"},{"d":59049.1,"m":17.42,"b":"ZTF r"},{"d":59049.9,"m":17.68,"b":"ZTF r"},
{"d":59049.2,"m":17.63,"b":"ZTF r"},{"d":59050,"m":17.51,"b":"ZTF r"},{"d":59051.5,"m":17.34,"b":"ZTF r"},{"d":59052.3,"m":17.46,"b":"ZTF r"},{"d":59053.9,"m":17.59,"b":"ZTF r"},{"d":59054.6,"m":17.34,"b":"ZTF r"},{"d":59056.2,"m":17.51,"b":"ZTF r"},{"d":59057,"m":17.68,"b":"ZTF r"},{"d":59057.7,"m":17.42,"b":"ZTF r"},{"d":59059.3,"m":17.68,"b":"ZTF r"},{"d":59060.8,"m":17.55,"b":"ZTF r"},{"d":59061.6,"m":17.72,"b":"ZTF r"},{"d":59062.4,"m":17.51,"b":"ZTF r"},{"d":59063.9,"m":17.34,"b":"ZTF r"},{"d":59063.9,"m":16.91,"b":"ZTF r"},{"d":59064.7,"m":17.63,"b":"ZTF r"},{"d":59065.5,"m":17.46,"b":"ZTF r"},{"d":59067,"m":17.34,"b":"ZTF r"},{"d":59067.8,"m":17.72,"b":"ZTF r"},{"d":59068.5,"m":17.51,"b":"ZTF r"},{"d":59070.1,"m":17.59,"b":"ZTF r"},{"d":59071.6,"m":17.63,"b":"ZTF r"},{"d":59073.2,"m":17.42,"b":"ZTF r"},{"d":59074.7,"m":17.89,"b":"ZTF r"},{"d":59075.5,"m":17.51,"b":"ZTF r"},{"d":59077,"m":17.68,"b":"ZTF r"},{"d":59078.6,"m":17.85,"b":"ZTF r"},{"d":59078.6,"m":17.51,"b":"ZTF r"},{"d":59079.4,"m":17.42,"b":"ZTF r"},{"d":59080.9,"m":17.46,"b":"ZTF r"},{"d":59081.7,"m":17.38,"b":"ZTF r"},{"d":59084,"m":17.59,"b":"ZTF r"},{"d":59085.5,"m":17.55,"b":"ZTF r"},{"d":59087.1,"m":17.76,"b":"ZTF r"},{"d":59087.9,"m":17.59,"b":"ZTF r"},{"d":59089.4,"m":17.51,"b":"ZTF r"},{"d":59090.2,"m":17.8,"b":"ZTF r"},{"d":59091,"m":17.38,"b":"ZTF r"},{"d":59091.7,"m":17.42,"b":"ZTF r"},{"d":59092.5,"m":17.55,"b":"ZTF r"},{"d":59093.3,"m":17.68,"b":"ZTF r"},{"d":59094.8,"m":17.55,"b":"ZTF r"},{"d":59096.4,"m":17.72,"b":"ZTF r"},{"d":59097.1,"m":17.21,"b":"ZTF r"},{"d":59097.9,"m":17.34,"b":"ZTF r"},{"d":59098.7,"m":17.59,"b":"ZTF r"},{"d":59099.5,"m":17.72,"b":"ZTF r"},{"d":59100.2,"m":17.63,"b":"ZTF r"},
{"d":59052,"m":17.6,"b":"ZTF r"},{"d":59055,"m":17.7,"b":"ZTF r"},{"d":59058.5,"m":17.55,"b":"ZTF r"},{"d":59060,"m":17.4,"b":"ZTF r"},{"d":59066,"m":17.6,"b":"ZTF r"},{"d":59069,"m":17.7,"b":"ZTF r"},{"d":59072.5,"m":17.5,"b":"ZTF r"},{"d":59076,"m":17.6,"b":"ZTF r"},{"d":59083,"m":17.7,"b":"ZTF r"},{"d":59086,"m":17.45,"b":"ZTF r"},{"d":59088.5,"m":17.65,"b":"ZTF r"},{"d":59095.5,"m":17.45,"b":"ZTF r"},{"d":59093.8,"m":17.75,"b":"ZTF r"},
{"d":59106.4,"m":17.51,"b":"ZTF r"},{"d":59107.2,"m":17.72,"b":"ZTF r"},{"d":59108.7,"m":17.55,"b":"ZTF r"},{"d":59109.5,"m":17.59,"b":"ZTF r"},{"d":59110.3,"m":17.63,"b":"ZTF r"},{"d":59111.1,"m":17.68,"b":"ZTF r"},{"d":59111.8,"m":17.76,"b":"ZTF r"},{"d":59113.4,"m":17.34,"b":"ZTF r"},{"d":59113.4,"m":17.59,"b":"ZTF r"},{"d":59114.9,"m":17.68,"b":"ZTF r"},{"d":59116.5,"m":17.63,"b":"ZTF r"},{"d":59117.2,"m":17.8,"b":"ZTF r"},{"d":59118,"m":17.51,"b":"ZTF r"},{"d":59118.8,"m":17.72,"b":"ZTF r"},{"d":59119.6,"m":17.59,"b":"ZTF r"},{"d":59121.1,"m":17.51,"b":"ZTF r"},{"d":59121.9,"m":17.76,"b":"ZTF r"},{"d":59122.6,"m":17.59,"b":"ZTF r"},{"d":59123.4,"m":17.46,"b":"ZTF r"},{"d":59124.2,"m":17.68,"b":"ZTF r"},{"d":59125.7,"m":17.51,"b":"ZTF r"},{"d":59125.7,"m":17.72,"b":"ZTF r"},{"d":59127.3,"m":17.76,"b":"ZTF r"},{"d":59129.6,"m":17.63,"b":"ZTF r"},
{"d":59135,"m":17.68,"b":"ZTF r"},{"d":59135.8,"m":17.55,"b":"ZTF r"},{"d":59137.3,"m":17.51,"b":"ZTF r"},{"d":59137.8,"m":17.83,"b":"ZTF r"},{"d":59138.9,"m":17.68,"b":"ZTF r"},{"d":59141.2,"m":17.63,"b":"ZTF r"},{"d":59142,"m":17.8,"b":"ZTF r"},{"d":59145.5,"m":17.68,"b":"ZTF r"},{"d":59145.5,"m":17.32,"b":"ZTF r"},{"d":59150.5,"m":17.49,"b":"ZTF r"},{"d":59152.8,"m":17.55,"b":"ZTF r"},{"d":59153.6,"m":17.4,"b":"ZTF r"},{"d":59155.1,"m":17.68,"b":"ZTF r"},{"d":59156.6,"m":17.72,"b":"ZTF r"},{"d":59157.4,"m":17.78,"b":"ZTF r"},{"d":59158.5,"m":17.57,"b":"ZTF r"},{"d":59164.4,"m":17.38,"b":"ZTF r"},{"d":59164.7,"m":17.44,"b":"ZTF r"},{"d":59167.5,"m":17.51,"b":"ZTF r"},{"d":59169,"m":17.68,"b":"ZTF r"},{"d":59169.5,"m":17.4,"b":"ZTF r"},{"d":59171.3,"m":17.72,"b":"ZTF r"},{"d":59173.3,"m":17.74,"b":"ZTF r"},{"d":59174.4,"m":17.86,"b":"ZTF r"},{"d":59177.5,"m":17.51,"b":"ZTF r"},{"d":59178.3,"m":17.63,"b":"ZTF r"},{"d":59181.4,"m":17.46,"b":"ZTF r"},{"d":59182.1,"m":17.4,"b":"ZTF r"},{"d":59184.5,"m":17.52,"b":"ZTF r"},{"d":59186,"m":17.38,"b":"ZTF r"},{"d":59187.6,"m":17.42,"b":"ZTF r"},{"d":59189.9,"m":17.72,"b":"ZTF r"},{"d":59190.7,"m":17.49,"b":"ZTF r"},{"d":59191.4,"m":17.72,"b":"ZTF r"},{"d":59195.3,"m":17.4,"b":"ZTF r"},{"d":59217.2,"m":17.29,"b":"ZTF r"},{"d":59217.2,"m":17.34,"b":"ZTF r"},
{"d":58893.4,"m":18.25,"b":"ZTF g"},{"d":58914.4,"m":19.16,"b":"ZTF g"},{"d":58941,"m":18.82,"b":"ZTF g"},{"d":58941,"m":19.1,"b":"ZTF g"},{"d":58944,"m":18.57,"b":"ZTF g"},{"d":58955.3,"m":18.76,"b":"ZTF g"},{"d":58955.3,"m":18.85,"b":"ZTF g"},{"d":58962.6,"m":18.95,"b":"ZTF g"},{"d":58963.4,"m":19.08,"b":"ZTF g"},{"d":58963.7,"m":19.19,"b":"ZTF g"},{"d":58964.1,"m":18.78,"b":"ZTF g"},{"d":58964.9,"m":18.85,"b":"ZTF g"},{"d":58965.4,"m":18.69,"b":"ZTF g"},{"d":58966.2,"m":18.85,"b":"ZTF g"},
{"d":58971.9,"m":18.69,"b":"ZTF g"},{"d":58972.6,"m":18.78,"b":"ZTF g"},{"d":58974.2,"m":18.65,"b":"ZTF g"},{"d":58975,"m":18.52,"b":"ZTF g"},{"d":58975,"m":18.4,"b":"ZTF g"},{"d":58975.7,"m":18.61,"b":"ZTF g"},{"d":58977,"m":19.12,"b":"ZTF g"},{"d":58977.3,"m":18.65,"b":"ZTF g"},{"d":58978.1,"m":18.52,"b":"ZTF g"},{"d":58979.6,"m":18.44,"b":"ZTF g"},{"d":58980.4,"m":18.82,"b":"ZTF g"},{"d":58981.1,"m":19.03,"b":"ZTF g"},{"d":58981.9,"m":18.69,"b":"ZTF g"},{"d":58982.7,"m":18.86,"b":"ZTF g"},{"d":58984.2,"m":18.95,"b":"ZTF g"},{"d":58985,"m":19.03,"b":"ZTF g"},{"d":58986.6,"m":18.91,"b":"ZTF g"},{"d":58987.3,"m":19.16,"b":"ZTF g"},{"d":58988.1,"m":19.2,"b":"ZTF g"},{"d":58992,"m":19.16,"b":"ZTF g"},{"d":58992,"m":19.2,"b":"ZTF g"},{"d":58994.3,"m":18.57,"b":"ZTF g"},{"d":58996.6,"m":18.52,"b":"ZTF g"},{"d":59002.8,"m":18.85,"b":"ZTF g"},{"d":59004.3,"m":18.48,"b":"ZTF g"},{"d":59005.1,"m":18.65,"b":"ZTF g"},{"d":59009.7,"m":18.61,"b":"ZTF g"},{"d":59012.1,"m":19.08,"b":"ZTF g"},{"d":59012.8,"m":18.95,"b":"ZTF g"},{"d":59013.6,"m":18.86,"b":"ZTF g"},{"d":59015.9,"m":18.65,"b":"ZTF g"},{"d":59016.7,"m":18.69,"b":"ZTF g"},{"d":59017.5,"m":18.65,"b":"ZTF g"},{"d":59018.2,"m":18.65,"b":"ZTF g"},{"d":59019,"m":19.16,"b":"ZTF g"},{"d":59020.6,"m":19.2,"b":"ZTF g"},{"d":59022.1,"m":18.82,"b":"ZTF g"},{"d":59023.6,"m":18.76,"b":"ZTF g"},{"d":59025.2,"m":18.86,"b":"ZTF g"},{"d":59026.7,"m":19.03,"b":"ZTF g"},{"d":59030.6,"m":18.82,"b":"ZTF g"},{"d":59030.6,"m":19.12,"b":"ZTF g"},{"d":59032.9,"m":19.25,"b":"ZTF g"},{"d":59034.5,"m":18.99,"b":"ZTF g"},{"d":59036,"m":18.65,"b":"ZTF g"},{"d":59037.6,"m":18.57,"b":"ZTF g"},{"d":59038.3,"m":18.78,"b":"ZTF g"},{"d":59039.9,"m":18.86,"b":"ZTF g"},{"d":59040.6,"m":18.65,"b":"ZTF g"},{"d":59041.4,"m":19.08,"b":"ZTF g"},{"d":59042.2,"m":18.69,"b":"ZTF g"},{"d":59043,"m":18.78,"b":"ZTF g"},{"d":59043.7,"m":19.12,"b":"ZTF g"},{"d":59045.3,"m":18.78,"b":"ZTF g"},{"d":59046.8,"m":19.2,"b":"ZTF g"},{"d":59047.6,"m":19.03,"b":"ZTF g"},{"d":59049.1,"m":18.86,"b":"ZTF g"},{"d":59049.9,"m":19.16,"b":"ZTF g"},
{"d":58998,"m":19.15,"b":"ZTF g"},{"d":59000,"m":19.2,"b":"ZTF g"},{"d":59007,"m":19.2,"b":"ZTF g"},{"d":59003.5,"m":19.1,"b":"ZTF g"},
{"d":59050,"m":19.08,"b":"ZTF g"},{"d":59051.5,"m":18.69,"b":"ZTF g"},{"d":59052.3,"m":19.08,"b":"ZTF g"},{"d":59053.1,"m":19.16,"b":"ZTF g"},{"d":59054.6,"m":18.86,"b":"ZTF g"},{"d":59055.4,"m":19.12,"b":"ZTF g"},{"d":59056.2,"m":19.03,"b":"ZTF g"},{"d":59057.7,"m":19.16,"b":"ZTF g"},{"d":59059.3,"m":19.08,"b":"ZTF g"},{"d":59060.8,"m":19.12,"b":"ZTF g"},{"d":59061.6,"m":18.78,"b":"ZTF g"},{"d":59062.4,"m":18.91,"b":"ZTF g"},{"d":59063.1,"m":18.99,"b":"ZTF g"},{"d":59063.9,"m":18.74,"b":"ZTF g"},{"d":59064.7,"m":19.03,"b":"ZTF g"},{"d":59065.5,"m":18.69,"b":"ZTF g"},{"d":59066.2,"m":18.78,"b":"ZTF g"},{"d":59067,"m":19.25,"b":"ZTF g"},{"d":59067.8,"m":18.95,"b":"ZTF g"},{"d":59068.5,"m":19.12,"b":"ZTF g"},{"d":59069.3,"m":18.44,"b":"ZTF g"},{"d":59070.1,"m":18.82,"b":"ZTF g"},{"d":59071.6,"m":18.74,"b":"ZTF g"},{"d":59072.4,"m":18.65,"b":"ZTF g"},{"d":59073.2,"m":18.95,"b":"ZTF g"},{"d":59074.7,"m":19.12,"b":"ZTF g"},{"d":59076.3,"m":18.52,"b":"ZTF g"},{"d":59077,"m":18.52,"b":"ZTF g"},{"d":59077,"m":18.27,"b":"ZTF g"},{"d":59077.8,"m":18.95,"b":"ZTF g"},{"d":59078.6,"m":18.86,"b":"ZTF g"},{"d":59080.1,"m":18.86,"b":"ZTF g"},{"d":59080.9,"m":19.12,"b":"ZTF g"},{"d":59082.5,"m":18.61,"b":"ZTF g"},{"d":59083.2,"m":18.78,"b":"ZTF g"},{"d":59084.8,"m":18.74,"b":"ZTF g"},{"d":59085.5,"m":18.65,"b":"ZTF g"},{"d":59087.1,"m":18.61,"b":"ZTF g"},{"d":59087.9,"m":18.78,"b":"ZTF g"},{"d":59089.4,"m":18.52,"b":"ZTF g"},{"d":59090.2,"m":18.65,"b":"ZTF g"},{"d":59090.2,"m":19.12,"b":"ZTF g"},{"d":59091,"m":18.27,"b":"ZTF g"},{"d":59091.7,"m":18.57,"b":"ZTF g"},{"d":59092.5,"m":18.44,"b":"ZTF g"},{"d":59093.3,"m":18.86,"b":"ZTF g"},{"d":59094,"m":18.65,"b":"ZTF g"},{"d":59095.6,"m":19.03,"b":"ZTF g"},{"d":59096.4,"m":18.44,"b":"ZTF g"},{"d":59097.1,"m":18.86,"b":"ZTF g"},{"d":59097.9,"m":18.74,"b":"ZTF g"},{"d":59098.7,"m":18.52,"b":"ZTF g"},{"d":59099.5,"m":18.61,"b":"ZTF g"},{"d":59100.2,"m":18.48,"b":"ZTF g"},
{"d":59107.2,"m":18.57,"b":"ZTF g"},{"d":59108,"m":19.08,"b":"ZTF g"},{"d":59108.7,"m":18.69,"b":"ZTF g"},{"d":59110.3,"m":18.74,"b":"ZTF g"},{"d":59111.1,"m":18.95,"b":"ZTF g"},{"d":59111.8,"m":18.91,"b":"ZTF g"},{"d":59112.6,"m":19.16,"b":"ZTF g"},{"d":59113.4,"m":18.86,"b":"ZTF g"},{"d":59114.1,"m":19.03,"b":"ZTF g"},{"d":59114.9,"m":19.12,"b":"ZTF g"},{"d":59115.7,"m":18.44,"b":"ZTF g"},{"d":59115.7,"m":18.52,"b":"ZTF g"},{"d":59116.5,"m":18.78,"b":"ZTF g"},{"d":59117.2,"m":18.91,"b":"ZTF g"},{"d":59118,"m":18.99,"b":"ZTF g"},{"d":59119.6,"m":18.74,"b":"ZTF g"},{"d":59121.1,"m":19.12,"b":"ZTF g"},{"d":59121.9,"m":18.95,"b":"ZTF g"},{"d":59122.6,"m":18.65,"b":"ZTF g"},{"d":59123.4,"m":18.74,"b":"ZTF g"},{"d":59125,"m":19.08,"b":"ZTF g"},{"d":59125.7,"m":18.69,"b":"ZTF g"},{"d":59129.6,"m":19.0,"b":"ZTF g"},{"d":59131.6,"m":19.16,"b":"ZTF g"},
{"d":59135.8,"m":18.74,"b":"ZTF g"},{"d":59136.6,"m":19.08,"b":"ZTF g"},{"d":59137.8,"m":18.78,"b":"ZTF g"},{"d":59139.6,"m":18.82,"b":"ZTF g"},{"d":59140,"m":19.16,"b":"ZTF g"},{"d":59142,"m":19.25,"b":"ZTF g"},{"d":59143.5,"m":18.59,"b":"ZTF g"},{"d":59144,"m":18.97,"b":"ZTF g"},{"d":59145.8,"m":18.99,"b":"ZTF g"},{"d":59149.7,"m":18.74,"b":"ZTF g"},{"d":59150.5,"m":18.86,"b":"ZTF g"},{"d":59152,"m":18.95,"b":"ZTF g"},{"d":59153.6,"m":18.74,"b":"ZTF g"},{"d":59155.1,"m":19.25,"b":"ZTF g"},{"d":59155.9,"m":19.08,"b":"ZTF g"},{"d":59158.5,"m":18.69,"b":"ZTF g"},{"d":59164.4,"m":18.78,"b":"ZTF g"},{"d":59167.5,"m":18.57,"b":"ZTF g"},{"d":59168.2,"m":18.74,"b":"ZTF g"},{"d":59169.8,"m":18.91,"b":"ZTF g"},{"d":59171.3,"m":19.16,"b":"ZTF g"},{"d":59171.8,"m":18.91,"b":"ZTF g"},{"d":59174.4,"m":18.95,"b":"ZTF g"},{"d":59177.5,"m":19.01,"b":"ZTF g"},{"d":59179.1,"m":18.71,"b":"ZTF g"},{"d":59180.6,"m":18.57,"b":"ZTF g"},{"d":59182.1,"m":18.42,"b":"ZTF g"},{"d":59184.5,"m":18.86,"b":"ZTF g"},{"d":59184.5,"m":19.12,"b":"ZTF g"},{"d":59188.3,"m":18.74,"b":"ZTF g"},{"d":59188.8,"m":18.69,"b":"ZTF g"}
],
"p4": [
{"d":59248.9,"m":16.83,"b":"ZTF r"},{"d":59249.2,"m":16.8,"b":"ZTF r"},{"d":59249.5,"m":16.74,"b":"ZTF r"},{"d":59250,"m":16.66,"b":"ZTF r"},{"d":59250.8,"m":16.59,"b":"ZTF r"},{"d":59251.1,"m":16.53,"b":"ZTF r"},{"d":59250.5,"m":16.49,"b":"ZTF r"},
{"d":59263.9,"m":16.38,"b":"ZTF r"},{"d":59264.7,"m":16.57,"b":"ZTF r"},{"d":59265.5,"m":16.7,"b":"ZTF r"},{"d":59266.2,"m":16.61,"b":"ZTF r"},{"d":59267,"m":16.7,"b":"ZTF r"},{"d":59267.8,"m":16.64,"b":"ZTF r"},{"d":59268.5,"m":16.76,"b":"ZTF r"},{"d":59269,"m":16.61,"b":"ZTF r"},{"d":59269.3,"m":16.53,"b":"ZTF r"},{"d":59269.6,"m":16.44,"b":"ZTF r"},{"d":59270.1,"m":16.27,"b":"ZTF r"},{"d":59270.6,"m":16.19,"b":"ZTF r"},{"d":59270.9,"m":16.36,"b":"ZTF r"},{"d":59271.6,"m":16.15,"b":"ZTF r"},{"d":59272.1,"m":16.36,"b":"ZTF r"},{"d":59272.4,"m":16.23,"b":"ZTF r"},{"d":59273.2,"m":16.19,"b":"ZTF r"},{"d":59274,"m":16.15,"b":"ZTF r"},{"d":59275.5,"m":16.16,"b":"ZTF r"},{"d":59276.3,"m":16.19,"b":"ZTF r"},{"d":59277,"m":16.16,"b":"ZTF r"},{"d":59280.9,"m":16.16,"b":"ZTF r"},{"d":59266.5,"m":16.75,"b":"ZTF r"},{"d":59268,"m":16.58,"b":"ZTF r"},{"d":59271,"m":16.3,"b":"ZTF r"},{"d":59273.8,"m":16.25,"b":"ZTF r"},
{"d":59291.7,"m":16.23,"b":"ZTF r"},{"d":59295.6,"m":16.15,"b":"ZTF r"},{"d":59295.6,"m":16.27,"b":"ZTF r"},
{"d":59300.5,"m":16.1,"b":"ZTF r"},{"d":59302.6,"m":16.19,"b":"ZTF r"},{"d":59304.1,"m":16.23,"b":"ZTF r"},{"d":59304.9,"m":16.27,"b":"ZTF r"},{"d":59306.4,"m":16.1,"b":"ZTF r"},{"d":59307.2,"m":16.23,"b":"ZTF r"},{"d":59308.7,"m":16.27,"b":"ZTF r"},{"d":59310.3,"m":16.21,"b":"ZTF r"},{"d":59312.3,"m":16.13,"b":"ZTF r"},{"d":59313.4,"m":16.23,"b":"ZTF r"},{"d":59314.9,"m":16.19,"b":"ZTF r"},{"d":59316,"m":16.19,"b":"ZTF r"},{"d":59317.2,"m":16.15,"b":"ZTF r"},{"d":59319.6,"m":16.1,"b":"ZTF r"},{"d":59320.3,"m":16.15,"b":"ZTF r"},{"d":59321.9,"m":16.08,"b":"ZTF r"},{"d":59323.4,"m":16.1,"b":"ZTF r"},{"d":59325.7,"m":16.04,"b":"ZTF r"},{"d":59326.5,"m":16.1,"b":"ZTF r"},{"d":59329.6,"m":16.04,"b":"ZTF r"},{"d":59331.9,"m":16.13,"b":"ZTF r"},
{"d":59335.8,"m":15.98,"b":"ZTF r"},{"d":59336.6,"m":16.06,"b":"ZTF r"},{"d":59337.3,"m":16.15,"b":"ZTF r"},{"d":59338.1,"m":16.1,"b":"ZTF r"},{"d":59338.9,"m":16.19,"b":"ZTF r"},{"d":59339.6,"m":16.15,"b":"ZTF r"},{"d":59340.4,"m":16.06,"b":"ZTF r"},{"d":59342,"m":15.98,"b":"ZTF r"},{"d":59342.7,"m":16.1,"b":"ZTF r"},{"d":59343.5,"m":16.06,"b":"ZTF r"},{"d":59345,"m":16.15,"b":"ZTF r"},{"d":59346.6,"m":16.1,"b":"ZTF r"},{"d":59348.9,"m":16.1,"b":"ZTF r"},{"d":59349.7,"m":16.06,"b":"ZTF r"},
{"d":59353.6,"m":16.02,"b":"ZTF r"},{"d":59356.6,"m":15.96,"b":"ZTF r"},{"d":59359,"m":16.19,"b":"ZTF r"},{"d":59360.5,"m":16.06,"b":"ZTF r"},{"d":59362.1,"m":16.1,"b":"ZTF r"},{"d":59362.8,"m":16.15,"b":"ZTF r"},{"d":59363.6,"m":16.02,"b":"ZTF r"},{"d":59365.1,"m":16.04,"b":"ZTF r"},{"d":59366.7,"m":16.06,"b":"ZTF r"},{"d":59367.5,"m":16.15,"b":"ZTF r"},{"d":59369,"m":16.06,"b":"ZTF r"},{"d":59371.3,"m":16.1,"b":"ZTF r"},{"d":59372.9,"m":16.06,"b":"ZTF r"},{"d":59374.4,"m":16.13,"b":"ZTF r"},{"d":59376,"m":16.06,"b":"ZTF r"},{"d":59377.5,"m":16.1,"b":"ZTF r"},{"d":59379.1,"m":16.15,"b":"ZTF r"},{"d":59380.6,"m":16.02,"b":"ZTF r"},{"d":59382.9,"m":16.16,"b":"ZTF r"},{"d":59385.2,"m":16.04,"b":"ZTF r"},{"d":59387.6,"m":15.98,"b":"ZTF r"},{"d":59392.2,"m":16.06,"b":"ZTF r"},{"d":59393,"m":16.02,"b":"ZTF r"},{"d":59396.1,"m":15.98,"b":"ZTF r"},{"d":59397.6,"m":16.04,"b":"ZTF r"},{"d":59399.9,"m":16.02,"b":"ZTF r"},{"d":59402.2,"m":15.96,"b":"ZTF r"},{"d":59404.6,"m":16.06,"b":"ZTF r"},{"d":59406.9,"m":15.98,"b":"ZTF r"},{"d":59410,"m":15.96,"b":"ZTF r"},{"d":59412.3,"m":15.99,"b":"ZTF r"},{"d":59414.6,"m":16.02,"b":"ZTF r"},
{"d":59415.7,"m":15.99,"b":"ZTF r"},{"d":59418.8,"m":16.04,"b":"ZTF r"},{"d":59422.6,"m":16.06,"b":"ZTF r"},{"d":59423.9,"m":15.82,"b":"ZTF r"},{"d":59425,"m":15.98,"b":"ZTF r"},{"d":59426.5,"m":15.96,"b":"ZTF r"},{"d":59428.8,"m":15.93,"b":"ZTF r"},{"d":59430.4,"m":16.06,"b":"ZTF r"},{"d":59430.7,"m":16.16,"b":"ZTF r"},{"d":59435.8,"m":16.25,"b":"ZTF r"},{"d":59436.8,"m":16.2,"b":"ZTF r"},{"d":59438.1,"m":16.21,"b":"ZTF r"},{"d":59439.6,"m":16.1,"b":"ZTF r"},{"d":59441.2,"m":16.04,"b":"ZTF r"},{"d":59442.7,"m":16.02,"b":"ZTF r"},{"d":59444,"m":16.05,"b":"ZTF r"},{"d":59447.4,"m":16.08,"b":"ZTF r"},{"d":59449.7,"m":16.13,"b":"ZTF r"},{"d":59450.8,"m":16.16,"b":"ZTF r"},{"d":59452.3,"m":15.85,"b":"ZTF r"},{"d":59454.3,"m":16.02,"b":"ZTF r"},{"d":59455.1,"m":16.06,"b":"ZTF r"},{"d":59457,"m":16.12,"b":"ZTF r"},{"d":59458.2,"m":16.1,"b":"ZTF r"},{"d":59460.5,"m":16.04,"b":"ZTF r"},{"d":59462.1,"m":16.02,"b":"ZTF r"},{"d":59463.6,"m":16.1,"b":"ZTF r"},{"d":59465.1,"m":16.13,"b":"ZTF r"},{"d":59466.7,"m":16.04,"b":"ZTF r"},{"d":59467.5,"m":16.14,"b":"ZTF r"},{"d":59468.2,"m":16.16,"b":"ZTF r"},{"d":59469,"m":16.06,"b":"ZTF r"},{"d":59470.6,"m":15.99,"b":"ZTF r"},{"d":59472.1,"m":16.04,"b":"ZTF r"},{"d":59473.6,"m":16.04,"b":"ZTF r"},{"d":59475,"m":16.12,"b":"ZTF r"},{"d":59476,"m":16.08,"b":"ZTF r"},{"d":59478.3,"m":16.1,"b":"ZTF r"},{"d":59480.6,"m":16.08,"b":"ZTF r"},{"d":59482.9,"m":16.04,"b":"ZTF r"},{"d":59484.5,"m":16.1,"b":"ZTF r"},{"d":59486,"m":16.08,"b":"ZTF r"},{"d":59487.5,"m":16.05,"b":"ZTF r"},{"d":59489.1,"m":15.99,"b":"ZTF r"},{"d":59489.9,"m":16.04,"b":"ZTF r"},{"d":59491.4,"m":16.1,"b":"ZTF r"},
{"d":59498.4,"m":16.04,"b":"ZTF r"},{"d":59502.2,"m":15.98,"b":"ZTF r"},{"d":59503.8,"m":15.91,"b":"ZTF r"},{"d":59504.6,"m":16.1,"b":"ZTF r"},{"d":59510,"m":15.96,"b":"ZTF r"},{"d":59510.7,"m":16.04,"b":"ZTF r"},{"d":59512.3,"m":16.04,"b":"ZTF r"},{"d":59516.9,"m":16.02,"b":"ZTF r"},{"d":59520,"m":16.02,"b":"ZTF r"},{"d":59520.8,"m":16.06,"b":"ZTF r"},{"d":59521.6,"m":16.08,"b":"ZTF r"},{"d":59523.9,"m":15.98,"b":"ZTF r"},{"d":59525.4,"m":16.04,"b":"ZTF r"},{"d":59526.2,"m":15.85,"b":"ZTF r"},{"d":59528.5,"m":15.93,"b":"ZTF r"},{"d":59529.3,"m":15.99,"b":"ZTF r"},{"d":59531.6,"m":15.93,"b":"ZTF r"},{"d":59537,"m":16.02,"b":"ZTF r"},{"d":59537.3,"m":16.1,"b":"ZTF r"},{"d":59540.1,"m":15.76,"b":"ZTF r"},{"d":59542.9,"m":15.79,"b":"ZTF r"},
{"d":59272.1,"m":17.15,"b":"ZTF g"},{"d":59274.7,"m":17.01,"b":"ZTF g"},{"d":59277,"m":16.87,"b":"ZTF g"},{"d":59291.7,"m":16.87,"b":"ZTF g"},
{"d":59298.7,"m":16.78,"b":"ZTF g"},{"d":59300.5,"m":16.8,"b":"ZTF g"},{"d":59303,"m":16.87,"b":"ZTF g"},{"d":59305.6,"m":16.91,"b":"ZTF g"},{"d":59306.4,"m":16.87,"b":"ZTF g"},{"d":59308,"m":16.83,"b":"ZTF g"},{"d":59309.5,"m":16.78,"b":"ZTF g"},{"d":59311.1,"m":16.81,"b":"ZTF g"},{"d":59312.6,"m":16.78,"b":"ZTF g"},{"d":59314.1,"m":16.83,"b":"ZTF g"},{"d":59316.5,"m":16.84,"b":"ZTF g"},{"d":59319.6,"m":16.7,"b":"ZTF g"},{"d":59321.1,"m":16.78,"b":"ZTF g"},{"d":59322.6,"m":16.81,"b":"ZTF g"},{"d":59325.7,"m":16.7,"b":"ZTF g"},{"d":59329.6,"m":16.78,"b":"ZTF g"},
{"d":59335.5,"m":16.67,"b":"ZTF g"},{"d":59336.6,"m":16.74,"b":"ZTF g"},{"d":59337.3,"m":16.78,"b":"ZTF g"},{"d":59338.9,"m":16.83,"b":"ZTF g"},{"d":59339.6,"m":16.74,"b":"ZTF g"},{"d":59341.2,"m":16.72,"b":"ZTF g"},{"d":59342,"m":16.76,"b":"ZTF g"},{"d":59343.5,"m":16.7,"b":"ZTF g"},{"d":59345,"m":16.78,"b":"ZTF g"},{"d":59346.9,"m":16.83,"b":"ZTF g"},{"d":59348.9,"m":16.81,"b":"ZTF g"},{"d":59353.6,"m":16.72,"b":"ZTF g"},{"d":59355.1,"m":16.57,"b":"ZTF g"},{"d":59359,"m":16.74,"b":"ZTF g"},{"d":59360.5,"m":16.78,"b":"ZTF g"},{"d":59362.1,"m":16.72,"b":"ZTF g"},{"d":59364.4,"m":16.72,"b":"ZTF g"},{"d":59365.1,"m":16.7,"b":"ZTF g"},{"d":59366.7,"m":16.76,"b":"ZTF g"},{"d":59368.2,"m":16.74,"b":"ZTF g"},{"d":59369.8,"m":16.78,"b":"ZTF g"},{"d":59372.1,"m":16.83,"b":"ZTF g"},{"d":59373.6,"m":16.81,"b":"ZTF g"},{"d":59375.2,"m":16.81,"b":"ZTF g"},{"d":59376.7,"m":16.83,"b":"ZTF g"},{"d":59378.3,"m":16.83,"b":"ZTF g"},{"d":59379.8,"m":16.67,"b":"ZTF g"},{"d":59380.6,"m":16.78,"b":"ZTF g"},{"d":59382.1,"m":16.87,"b":"ZTF g"},{"d":59385.2,"m":16.7,"b":"ZTF g"},{"d":59387.6,"m":16.7,"b":"ZTF g"},{"d":59392.2,"m":16.7,"b":"ZTF g"},{"d":59393,"m":16.74,"b":"ZTF g"},{"d":59396.8,"m":16.61,"b":"ZTF g"},{"d":59398.4,"m":16.7,"b":"ZTF g"},{"d":59399.9,"m":16.64,"b":"ZTF g"},{"d":59400.7,"m":16.74,"b":"ZTF g"},{"d":59403,"m":16.78,"b":"ZTF g"},{"d":59404.6,"m":16.72,"b":"ZTF g"},{"d":59406.9,"m":16.67,"b":"ZTF g"},{"d":59408.4,"m":16.57,"b":"ZTF g"},{"d":59410,"m":16.66,"b":"ZTF g"},{"d":59411.5,"m":16.64,"b":"ZTF g"},{"d":59413.8,"m":16.7,"b":"ZTF g"},
{"d":59415.7,"m":16.74,"b":"ZTF g"},{"d":59418.8,"m":16.55,"b":"ZTF g"},{"d":59423.4,"m":16.47,"b":"ZTF g"},{"d":59425,"m":16.55,"b":"ZTF g"},{"d":59425.7,"m":16.61,"b":"ZTF g"},{"d":59426.5,"m":16.74,"b":"ZTF g"},{"d":59428.5,"m":16.53,"b":"ZTF g"},{"d":59428.8,"m":16.61,"b":"ZTF g"},{"d":59430.4,"m":16.74,"b":"ZTF g"},{"d":59435,"m":16.76,"b":"ZTF g"},{"d":59438.1,"m":16.91,"b":"ZTF g"},{"d":59438.9,"m":16.84,"b":"ZTF g"},{"d":59440.4,"m":16.64,"b":"ZTF g"},{"d":59441.2,"m":16.78,"b":"ZTF g"},{"d":59442.7,"m":16.81,"b":"ZTF g"},{"d":59444.3,"m":16.66,"b":"ZTF g"},{"d":59445.1,"m":16.81,"b":"ZTF g"},{"d":59448.1,"m":16.76,"b":"ZTF g"},{"d":59450.5,"m":16.67,"b":"ZTF g"},{"d":59450.8,"m":16.78,"b":"ZTF g"},{"d":59452.8,"m":16.84,"b":"ZTF g"},{"d":59454.3,"m":16.76,"b":"ZTF g"},{"d":59458.5,"m":16.98,"b":"ZTF g"},{"d":59459.7,"m":16.83,"b":"ZTF g"},{"d":59461.3,"m":16.74,"b":"ZTF g"},{"d":59462.8,"m":16.7,"b":"ZTF g"},{"d":59464.4,"m":16.78,"b":"ZTF g"},{"d":59465.9,"m":16.76,"b":"ZTF g"},{"d":59468.2,"m":16.84,"b":"ZTF g"},{"d":59469.8,"m":16.81,"b":"ZTF g"},{"d":59471.3,"m":16.74,"b":"ZTF g"},{"d":59473.6,"m":16.78,"b":"ZTF g"},{"d":59475.2,"m":16.7,"b":"ZTF g"},{"d":59477.5,"m":16.81,"b":"ZTF g"},{"d":59478.3,"m":16.67,"b":"ZTF g"},{"d":59480.6,"m":16.66,"b":"ZTF g"},{"d":59485.2,"m":16.83,"b":"ZTF g"},{"d":59486.8,"m":16.76,"b":"ZTF g"},{"d":59489.1,"m":16.7,"b":"ZTF g"},{"d":59491.4,"m":16.76,"b":"ZTF g"},
{"d":59498.4,"m":16.67,"b":"ZTF g"},{"d":59502.2,"m":16.57,"b":"ZTF g"},{"d":59504.3,"m":16.7,"b":"ZTF g"},{"d":59504.6,"m":16.74,"b":"ZTF g"},{"d":59510.4,"m":16.59,"b":"ZTF g"},{"d":59512.3,"m":16.81,"b":"ZTF g"},{"d":59516.9,"m":16.64,"b":"ZTF g"},{"d":59522.3,"m":16.74,"b":"ZTF g"},{"d":59523.1,"m":16.7,"b":"ZTF g"},{"d":59524.6,"m":16.67,"b":"ZTF g"},{"d":59525.4,"m":16.64,"b":"ZTF g"},{"d":59527.7,"m":16.66,"b":"ZTF g"},{"d":59529.3,"m":16.57,"b":"ZTF g"},{"d":59530.8,"m":16.53,"b":"ZTF g"},{"d":59531.6,"m":16.53,"b":"ZTF g"},{"d":59537.3,"m":16.61,"b":"ZTF g"},{"d":59543.2,"m":16.47,"b":"ZTF g"},{"d":59543.2,"m":16.61,"b":"ZTF g"}
],
"p5": [
{"d":59627.9,"m":16.15,"b":"ZTF r"},{"d":59628.5,"m":16.1,"b":"ZTF r"},{"d":59629,"m":16.04,"b":"ZTF r"},{"d":59629.5,"m":15.98,"b":"ZTF r"},{"d":59630,"m":16.06,"b":"ZTF r"},{"d":59630.3,"m":15.96,"b":"ZTF r"},{"d":59630.8,"m":16.02,"b":"ZTF r"},{"d":59631.1,"m":16.13,"b":"ZTF r"},
{"d":59637,"m":16.06,"b":"ZTF r"},{"d":59637.5,"m":16.19,"b":"ZTF r"},{"d":59637.8,"m":15.93,"b":"ZTF r"},{"d":59638.1,"m":15.87,"b":"ZTF r"},{"d":59639.4,"m":16.02,"b":"ZTF r"},{"d":59640.1,"m":16.1,"b":"ZTF r"},{"d":59641.7,"m":16.06,"b":"ZTF r"},
{"d":59671,"m":15.98,"b":"ZTF r"},{"d":59671,"m":16.06,"b":"ZTF r"},{"d":59674.1,"m":16.02,"b":"ZTF r"},{"d":59677.2,"m":15.93,"b":"ZTF r"},{"d":59680.2,"m":16.06,"b":"ZTF r"},{"d":59682.6,"m":16.04,"b":"ZTF r"},{"d":59684.1,"m":16.02,"b":"ZTF r"},{"d":59687.2,"m":15.96,"b":"ZTF r"},{"d":59689.5,"m":16.02,"b":"ZTF r"},{"d":59690.3,"m":16.1,"b":"ZTF r"},{"d":59694.1,"m":16.02,"b":"ZTF r"},{"d":59694.9,"m":16.06,"b":"ZTF r"},{"d":59697.2,"m":16.13,"b":"ZTF r"},{"d":59698,"m":16.27,"b":"ZTF r"},{"d":59699.5,"m":16.1,"b":"ZTF r"},{"d":59700.3,"m":16.15,"b":"ZTF r"},{"d":59703.4,"m":16.13,"b":"ZTF r"},
{"d":59707.3,"m":15.98,"b":"ZTF r"},{"d":59708,"m":16.02,"b":"ZTF r"},{"d":59708.8,"m":16.04,"b":"ZTF r"},{"d":59709.6,"m":16.13,"b":"ZTF r"},{"d":59710.3,"m":16.08,"b":"ZTF r"},{"d":59711.9,"m":16.06,"b":"ZTF r"},{"d":59712.7,"m":16.15,"b":"ZTF r"},{"d":59714.2,"m":16.13,"b":"ZTF r"},{"d":59718.8,"m":16.08,"b":"ZTF r"},{"d":59719.6,"m":16.13,"b":"ZTF r"},{"d":59721.1,"m":16.25,"b":"ZTF r"},{"d":59721.9,"m":16.19,"b":"ZTF r"},{"d":59723.5,"m":16.04,"b":"ZTF r"},{"d":59724.2,"m":16.1,"b":"ZTF r"},{"d":59725.8,"m":16.15,"b":"ZTF r"},{"d":59727.3,"m":16.23,"b":"ZTF r"},{"d":59728.1,"m":16.32,"b":"ZTF r"},{"d":59728.9,"m":16.19,"b":"ZTF r"},{"d":59730.4,"m":16.21,"b":"ZTF r"},{"d":59731.9,"m":16.15,"b":"ZTF r"},{"d":59732.7,"m":16.06,"b":"ZTF r"},{"d":59734.3,"m":16.13,"b":"ZTF r"},{"d":59735.8,"m":16.16,"b":"ZTF r"},{"d":59736.6,"m":16.1,"b":"ZTF r"},{"d":59738.1,"m":16.06,"b":"ZTF r"},{"d":59739.7,"m":16.13,"b":"ZTF r"},{"d":59741.2,"m":16.15,"b":"ZTF r"},{"d":59742,"m":16.04,"b":"ZTF r"},{"d":59743.5,"m":16.1,"b":"ZTF r"},{"d":59744.3,"m":16.15,"b":"ZTF r"},{"d":59748.9,"m":16.1,"b":"ZTF r"},{"d":59750.5,"m":16.25,"b":"ZTF r"},{"d":59752,"m":16.23,"b":"ZTF r"},{"d":59755.1,"m":16.27,"b":"ZTF r"},{"d":59755.9,"m":16.23,"b":"ZTF r"},{"d":59760.5,"m":15.89,"b":"ZTF r"},{"d":59761.3,"m":16.13,"b":"ZTF r"},{"d":59762.8,"m":16.19,"b":"ZTF r"},{"d":59763.6,"m":16.27,"b":"ZTF r"},{"d":59765.9,"m":16.23,"b":"ZTF r"},{"d":59767.4,"m":16.32,"b":"ZTF r"},{"d":59772.1,"m":16.21,"b":"ZTF r"},{"d":59773.6,"m":16.19,"b":"ZTF r"},{"d":59775.2,"m":16.16,"b":"ZTF r"},
{"d":59779.9,"m":16.36,"b":"ZTF r"},{"d":59781.5,"m":16.25,"b":"ZTF r"},{"d":59783,"m":16.27,"b":"ZTF r"},{"d":59783.8,"m":16.13,"b":"ZTF r"},{"d":59784.5,"m":16.19,"b":"ZTF r"},{"d":59786.1,"m":16.27,"b":"ZTF r"},{"d":59786.9,"m":16.23,"b":"ZTF r"},{"d":59788.4,"m":16.21,"b":"ZTF r"},{"d":59790,"m":16.32,"b":"ZTF r"},{"d":59790.7,"m":16.13,"b":"ZTF r"},{"d":59791.5,"m":16.16,"b":"ZTF r"},{"d":59793.8,"m":16.21,"b":"ZTF r"},{"d":59797.7,"m":16.16,"b":"ZTF r"},{"d":59798.5,"m":16.32,"b":"ZTF r"},{"d":59800.8,"m":16.36,"b":"ZTF r"},{"d":59802.8,"m":16.21,"b":"ZTF r"},{"d":59805.4,"m":16.36,"b":"ZTF r"},{"d":59807.7,"m":16.33,"b":"ZTF r"},{"d":59809.3,"m":16.32,"b":"ZTF r"},{"d":59811.6,"m":16.44,"b":"ZTF r"},{"d":59812.4,"m":16.53,"b":"ZTF r"},{"d":59813.9,"m":16.55,"b":"ZTF r"},{"d":59815.1,"m":16.4,"b":"ZTF r"},{"d":59817,"m":16.36,"b":"ZTF r"},{"d":59817.8,"m":16.3,"b":"ZTF r"},{"d":59819.3,"m":16.53,"b":"ZTF r"},{"d":59820.9,"m":16.42,"b":"ZTF r"},{"d":59821.6,"m":16.57,"b":"ZTF r"},{"d":59823.2,"m":16.53,"b":"ZTF r"},{"d":59824.7,"m":16.5,"b":"ZTF r"},{"d":59826.3,"m":16.53,"b":"ZTF r"},{"d":59827.8,"m":16.57,"b":"ZTF r"},{"d":59828.6,"m":16.59,"b":"ZTF r"},
{"d":59842,"m":16.91,"b":"ZTF r"},{"d":59842,"m":16.81,"b":"ZTF r"},{"d":59843.3,"m":16.78,"b":"ZTF r"},{"d":59844.8,"m":16.81,"b":"ZTF r"},{"d":59846.4,"m":16.76,"b":"ZTF r"},{"d":59847.1,"m":16.72,"b":"ZTF r"},{"d":59848.7,"m":16.67,"b":"ZTF r"},{"d":59850.2,"m":16.61,"b":"ZTF r"},{"d":59851,"m":16.67,"b":"ZTF r"},{"d":59853.3,"m":16.87,"b":"ZTF r"},{"d":59854.1,"m":16.74,"b":"ZTF r"},{"d":59855.3,"m":16.61,"b":"ZTF r"},{"d":59857.2,"m":16.67,"b":"ZTF r"},{"d":59859.5,"m":16.89,"b":"ZTF r"},{"d":59860,"m":16.81,"b":"ZTF r"},{"d":59861.5,"m":16.74,"b":"ZTF r"},{"d":59863.4,"m":16.78,"b":"ZTF r"},{"d":59865.2,"m":16.72,"b":"ZTF r"},{"d":59867.2,"m":16.89,"b":"ZTF r"},{"d":59867.7,"m":16.81,"b":"ZTF r"},{"d":59870.3,"m":16.61,"b":"ZTF r"},{"d":59871.9,"m":16.67,"b":"ZTF r"},{"d":59872.6,"m":16.78,"b":"ZTF r"},{"d":59874.2,"m":16.72,"b":"ZTF r"},{"d":59874.2,"m":16.95,"b":"ZTF r"},{"d":59877.3,"m":16.98,"b":"ZTF r"},{"d":59879.1,"m":16.87,"b":"ZTF r"},{"d":59881.1,"m":17.06,"b":"ZTF r"},{"d":59881.6,"m":17.23,"b":"ZTF r"},{"d":59883.5,"m":16.95,"b":"ZTF r"},{"d":59888.4,"m":17.01,"b":"ZTF r"},{"d":59888.4,"m":17.15,"b":"ZTF r"},{"d":59895.1,"m":17.0,"b":"ZTF r"},
{"d":59897.4,"m":17.32,"b":"ZTF r"},{"d":59897.7,"m":17.46,"b":"ZTF r"},{"d":59898.9,"m":17.66,"b":"ZTF r"},{"d":59900.2,"m":17.38,"b":"ZTF r"},{"d":59901.7,"m":17.32,"b":"ZTF r"},{"d":59903.2,"m":17.27,"b":"ZTF r"},{"d":59903.6,"m":17.66,"b":"ZTF r"},{"d":59907,"m":17.34,"b":"ZTF r"},{"d":59907.4,"m":17.29,"b":"ZTF r"},{"d":59909.4,"m":17.21,"b":"ZTF r"},{"d":59913.6,"m":17.34,"b":"ZTF r"},{"d":59913.6,"m":17.38,"b":"ZTF r"},{"d":59922.4,"m":17.49,"b":"ZTF r"},{"d":59924.4,"m":17.74,"b":"ZTF r"},
{"d":59637.5,"m":16.72,"b":"ZTF g"},{"d":59641.2,"m":16.8,"b":"ZTF g"},
{"d":59671,"m":16.74,"b":"ZTF g"},{"d":59674.1,"m":16.61,"b":"ZTF g"},{"d":59677.2,"m":16.61,"b":"ZTF g"},{"d":59677.2,"m":16.74,"b":"ZTF g"},{"d":59682.6,"m":16.67,"b":"ZTF g"},{"d":59684.1,"m":16.8,"b":"ZTF g"},{"d":59686.9,"m":16.55,"b":"ZTF g"},{"d":59687.2,"m":16.67,"b":"ZTF g"},{"d":59689.5,"m":16.67,"b":"ZTF g"},{"d":59694.6,"m":16.76,"b":"ZTF g"},{"d":59697.2,"m":16.76,"b":"ZTF g"},{"d":59698.8,"m":16.74,"b":"ZTF g"},{"d":59700.8,"m":16.7,"b":"ZTF g"},{"d":59701.5,"m":16.85,"b":"ZTF g"},{"d":59702.6,"m":16.76,"b":"ZTF g"},
{"d":59711.6,"m":16.83,"b":"ZTF g"},{"d":59713.4,"m":16.78,"b":"ZTF g"},{"d":59723.5,"m":16.78,"b":"ZTF g"},{"d":59724.2,"m":16.72,"b":"ZTF g"},{"d":59725,"m":16.95,"b":"ZTF g"},{"d":59725.8,"m":16.87,"b":"ZTF g"},{"d":59731.9,"m":16.78,"b":"ZTF g"},{"d":59732.7,"m":16.74,"b":"ZTF g"},{"d":59734.3,"m":16.83,"b":"ZTF g"},{"d":59735,"m":16.74,"b":"ZTF g"},{"d":59736.6,"m":16.67,"b":"ZTF g"},{"d":59738.1,"m":16.7,"b":"ZTF g"},{"d":59739.7,"m":16.67,"b":"ZTF g"},{"d":59741.2,"m":16.7,"b":"ZTF g"},{"d":59742,"m":16.76,"b":"ZTF g"},{"d":59743.5,"m":16.74,"b":"ZTF g"},{"d":59748.9,"m":16.78,"b":"ZTF g"},{"d":59750.5,"m":17.0,"b":"ZTF g"},{"d":59752.8,"m":16.87,"b":"ZTF g"},{"d":59755.1,"m":16.91,"b":"ZTF g"},{"d":59755.9,"m":17.0,"b":"ZTF g"},{"d":59757.4,"m":16.91,"b":"ZTF g"},{"d":59759,"m":16.95,"b":"ZTF g"},{"d":59760.5,"m":16.93,"b":"ZTF g"},{"d":59761.3,"m":17.08,"b":"ZTF g"},{"d":59762.8,"m":16.91,"b":"ZTF g"},{"d":59764.4,"m":16.95,"b":"ZTF g"},{"d":59766.2,"m":16.93,"b":"ZTF g"},{"d":59768.2,"m":17.04,"b":"ZTF g"},{"d":59769,"m":16.87,"b":"ZTF g"},{"d":59770.5,"m":16.89,"b":"ZTF g"},
{"d":59781.5,"m":16.93,"b":"ZTF g"},{"d":59782.7,"m":16.89,"b":"ZTF g"},{"d":59783.3,"m":17.1,"b":"ZTF g"},{"d":59784.5,"m":17.01,"b":"ZTF g"},{"d":59785.8,"m":17.1,"b":"ZTF g"},{"d":59787.6,"m":17.01,"b":"ZTF g"},{"d":59790,"m":17.04,"b":"ZTF g"},{"d":59790.7,"m":16.72,"b":"ZTF g"},{"d":59793.8,"m":16.95,"b":"ZTF g"},{"d":59795.1,"m":17.08,"b":"ZTF g"},{"d":59796.9,"m":16.95,"b":"ZTF g"},{"d":59798.5,"m":17.1,"b":"ZTF g"},{"d":59801.5,"m":17.06,"b":"ZTF g"},{"d":59803.1,"m":17.1,"b":"ZTF g"},{"d":59805.4,"m":17.18,"b":"ZTF g"},{"d":59805.9,"m":17.06,"b":"ZTF g"},{"d":59807,"m":17.15,"b":"ZTF g"},{"d":59807.7,"m":17.1,"b":"ZTF g"},{"d":59810,"m":17.01,"b":"ZTF g"},{"d":59811.6,"m":17.15,"b":"ZTF g"},{"d":59813.1,"m":17.08,"b":"ZTF g"},{"d":59815.1,"m":17.1,"b":"ZTF g"},{"d":59816.2,"m":17.06,"b":"ZTF g"},{"d":59817.8,"m":17.01,"b":"ZTF g"},{"d":59819.3,"m":17.27,"b":"ZTF g"},{"d":59820.9,"m":17.15,"b":"ZTF g"},{"d":59821.6,"m":17.29,"b":"ZTF g"},{"d":59823.5,"m":17.35,"b":"ZTF g"},{"d":59825.5,"m":17.18,"b":"ZTF g"},{"d":59827.8,"m":17.32,"b":"ZTF g"},{"d":59830.6,"m":17.61,"b":"ZTF g"},
{"d":59837.4,"m":17.97,"b":"ZTF g"},{"d":59840.2,"m":17.93,"b":"ZTF g"},{"d":59840.5,"m":17.72,"b":"ZTF g"},{"d":59841.7,"m":17.8,"b":"ZTF g"},{"d":59842.5,"m":17.68,"b":"ZTF g"},{"d":59844.5,"m":17.63,"b":"ZTF g"},{"d":59846.4,"m":17.68,"b":"ZTF g"},{"d":59847.1,"m":17.76,"b":"ZTF g"},{"d":59847.9,"m":17.55,"b":"ZTF g"},{"d":59849.5,"m":17.59,"b":"ZTF g"},{"d":59851,"m":17.51,"b":"ZTF g"},{"d":59851.8,"m":17.49,"b":"ZTF g"},{"d":59853.3,"m":17.59,"b":"ZTF g"},{"d":59854.9,"m":17.55,"b":"ZTF g"},{"d":59855.6,"m":17.59,"b":"ZTF g"},{"d":59857.2,"m":17.46,"b":"ZTF g"},{"d":59859.5,"m":17.72,"b":"ZTF g"},{"d":59861.5,"m":17.38,"b":"ZTF g"},{"d":59863.4,"m":17.59,"b":"ZTF g"},{"d":59864.1,"m":17.51,"b":"ZTF g"},{"d":59865.7,"m":17.42,"b":"ZTF g"},{"d":59867.7,"m":17.72,"b":"ZTF g"},{"d":59870.3,"m":17.52,"b":"ZTF g"},{"d":59872.3,"m":17.57,"b":"ZTF g"},{"d":59874.2,"m":17.72,"b":"ZTF g"},{"d":59874.5,"m":17.68,"b":"ZTF g"},{"d":59877.3,"m":17.57,"b":"ZTF g"},{"d":59879.1,"m":17.86,"b":"ZTF g"},{"d":59881.1,"m":18.03,"b":"ZTF g"},{"d":59881.9,"m":17.97,"b":"ZTF g"},{"d":59883.5,"m":17.91,"b":"ZTF g"},{"d":59888.1,"m":18.35,"b":"ZTF g"},{"d":59888.4,"m":18.42,"b":"ZTF g"},{"d":59890.4,"m":18.29,"b":"ZTF g"},{"d":59895.1,"m":18.1,"b":"ZTF g"},{"d":59895.5,"m":18.12,"b":"ZTF g"},{"d":59897.4,"m":18.46,"b":"ZTF g"},{"d":59897.4,"m":18.68,"b":"ZTF g"},{"d":59898.9,"m":18.59,"b":"ZTF g"},{"d":59899.2,"m":18.68,"b":"ZTF g"},{"d":59903.2,"m":18.54,"b":"ZTF g"},{"d":59907,"m":18.17,"b":"ZTF g"},{"d":59907.4,"m":18.34,"b":"ZTF g"},{"d":59909.4,"m":18.44,"b":"ZTF g"},{"d":59913.6,"m":18.23,"b":"ZTF g"},{"d":59922.4,"m":18.52,"b":"ZTF g"}
]
},
"vconcat": [
{"width": 786, "height": 183.4, "data": {"name": "p1"},
 "layer": [
  {"mark": {"type": "point", "filled": true, "stroke": "black", "strokeWidth": 1, "size": 100, "opacity": 1},
   "encoding": {
    "x": {"field": "d", "type": "quantitative", "scale": {"domain": [58140, 58505], "nice": false, "zero": false}, "axis": {"orient": "bottom", "values": [58150,58200,58250,58300,58350,58400,58450,58500], "tickSize": -8, "grid": true, "labels": true, "format": "d", "labelPadding": 16, "title": null}},
    "y": {"field": "m", "type": "quantitative", "scale": {"domain": [15, 19.68], "reverse": true, "nice": false, "zero": false}, "axis": {"orient": "left", "values": [15,16,17,18,19], "tickSize": -8, "grid": true, "labels": true, "format": "d", "labelPadding": 20, "title": "Magnitude", "titlePadding": 10}},
    "fill": {"field": "b", "type": "nominal", "scale": {"domain": ["ZTF r", "ZTF g"], "range": ["#ff0000", "#00ff00"]},
      "legend": {"orient": "none", "legendX": 538.7, "legendY": 22.7, "direction": "horizontal", "title": "\u00a0", "titleOrient": "right", "titlePadding": 14, "titleFontSize": 10, "strokeColor": "black", "fillColor": "white", "padding": 7, "labelFont": "Liberation Sans", "labelFontSize": 18, "labelColor": "black", "labelOffset": 12, "columnPadding": 35, "symbolType": "circle", "symbolSize": 55, "symbolStrokeColor": "black", "symbolStrokeWidth": 1, "symbolOpacity": 1}}
   }},
  {"transform": [{"filter": "false"}], "mark": "point", "encoding": {
    "x": {"field": "d", "type": "quantitative", "axis": {"orient": "top", "values": [58150,58200,58250,58300,58350,58400,58450,58500], "tickSize": -8, "title": null}},
    "y": {"field": "m", "type": "quantitative", "axis": {"orient": "right", "values": [15,16,17,18,19], "tickSize": -8, "title": null}}}},
  {"transform": [{"filter": "false"}], "mark": "point", "encoding": {
    "x": {"field": "d", "type": "quantitative", "axis": {"orient": "bottom", "values": [58160,58170,58180,58190,58210,58220,58230,58240,58260,58270,58280,58290,58310,58320,58330,58340,58360,58370,58380,58390,58410,58420,58430,58440,58460,58470,58480,58490], "tickSize": -4, "title": null}},
    "y": {"field": "m", "type": "quantitative", "axis": {"orient": "left", "values": [15.2,15.4,15.6,15.8,16.2,16.4,16.6,16.8,17.2,17.4,17.6,17.8,18.2,18.4,18.6,18.8,19.2,19.4,19.6], "tickSize": -4, "title": null}}}},
  {"transform": [{"filter": "false"}], "mark": "point", "encoding": {
    "x": {"field": "d", "type": "quantitative", "axis": {"orient": "top", "values": [58160,58170,58180,58190,58210,58220,58230,58240,58260,58270,58280,58290,58310,58320,58330,58340,58360,58370,58380,58390,58410,58420,58430,58440,58460,58470,58480,58490], "tickSize": -4, "title": null}},
    "y": {"field": "m", "type": "quantitative", "axis": {"orient": "right", "values": [15.2,15.4,15.6,15.8,16.2,16.4,16.6,16.8,17.2,17.4,17.6,17.8,18.2,18.4,18.6,18.8,19.2,19.4,19.6], "tickSize": -4, "title": null}}}}
 ],
 "resolve": {"axis": {"x": "independent", "y": "independent"}}
},
{"width": 786, "height": 183.4, "data": {"name": "p2"},
 "layer": [
  {"mark": {"type": "point", "filled": true, "stroke": "black", "strokeWidth": 1, "size": 100, "opacity": 1},
   "encoding": {
    "x": {"field": "d", "type": "quantitative", "scale": {"domain": [58505, 58870], "nice": false, "zero": false}, "axis": {"orient": "bottom", "values": [58550,58600,58650,58700,58750,58800,58850], "tickSize": -8, "grid": true, "labels": true, "format": "d", "labelPadding": 16, "title": null}},
    "y": {"field": "m", "type": "quantitative", "scale": {"domain": [15, 19.68], "reverse": true, "nice": false, "zero": false}, "axis": {"orient": "left", "values": [15,16,17,18,19], "tickSize": -8, "grid": true, "labels": true, "format": "d", "labelPadding": 20, "title": "Magnitude", "titlePadding": 10}},
    "fill": {"field": "b", "type": "nominal", "scale": {"domain": ["ZTF r", "ZTF g"], "range": ["#ff0000", "#00ff00"]}, "legend": null}
   }},
  {"transform": [{"filter": "false"}], "mark": "point", "encoding": {
    "x": {"field": "d", "type": "quantitative", "axis": {"orient": "top", "values": [58550,58600,58650,58700,58750,58800,58850], "tickSize": -8, "title": null}},
    "y": {"field": "m", "type": "quantitative", "axis": {"orient": "right", "values": [15,16,17,18,19], "tickSize": -8, "title": null}}}},
  {"transform": [{"filter": "false"}], "mark": "point", "encoding": {
    "x": {"field": "d", "type": "quantitative", "axis": {"orient": "bottom", "values": [58510,58520,58530,58540,58560,58570,58580,58590,58610,58620,58630,58640,58660,58670,58680,58690,58710,58720,58730,58740,58760,58770,58780,58790,58810,58820,58830,58840,58860], "tickSize": -4, "title": null}},
    "y": {"field": "m", "type": "quantitative", "axis": {"orient": "left", "values": [15.2,15.4,15.6,15.8,16.2,16.4,16.6,16.8,17.2,17.4,17.6,17.8,18.2,18.4,18.6,18.8,19.2,19.4,19.6], "tickSize": -4, "title": null}}}},
  {"transform": [{"filter": "false"}], "mark": "point", "encoding": {
    "x": {"field": "d", "type": "quantitative", "axis": {"orient": "top", "values": [58510,58520,58530,58540,58560,58570,58580,58590,58610,58620,58630,58640,58660,58670,58680,58690,58710,58720,58730,58740,58760,58770,58780,58790,58810,58820,58830,58840,58860], "tickSize": -4, "title": null}},
    "y": {"field": "m", "type": "quantitative", "axis": {"orient": "right", "values": [15.2,15.4,15.6,15.8,16.2,16.4,16.6,16.8,17.2,17.4,17.6,17.8,18.2,18.4,18.6,18.8,19.2,19.4,19.6], "tickSize": -4, "title": null}}}}
 ],
 "resolve": {"axis": {"x": "independent", "y": "independent"}}
},
{"width": 786, "height": 183.4, "data": {"name": "p3"},
 "layer": [
  {"mark": {"type": "point", "filled": true, "stroke": "black", "strokeWidth": 1, "size": 100, "opacity": 1},
   "encoding": {
    "x": {"field": "d", "type": "quantitative", "scale": {"domain": [58870, 59235], "nice": false, "zero": false}, "axis": {"orient": "bottom", "values": [58900,58950,59000,59050,59100,59150,59200], "tickSize": -8, "grid": true, "labels": true, "format": "d", "labelPadding": 16, "title": null}},
    "y": {"field": "m", "type": "quantitative", "scale": {"domain": [15, 19.68], "reverse": true, "nice": false, "zero": false}, "axis": {"orient": "left", "values": [15,16,17,18,19], "tickSize": -8, "grid": true, "labels": true, "format": "d", "labelPadding": 20, "title": "Magnitude", "titlePadding": 10}},
    "fill": {"field": "b", "type": "nominal", "scale": {"domain": ["ZTF r", "ZTF g"], "range": ["#ff0000", "#00ff00"]}, "legend": null}
   }},
  {"transform": [{"filter": "false"}], "mark": "point", "encoding": {
    "x": {"field": "d", "type": "quantitative", "axis": {"orient": "top", "values": [58900,58950,59000,59050,59100,59150,59200], "tickSize": -8, "title": null}},
    "y": {"field": "m", "type": "quantitative", "axis": {"orient": "right", "values": [15,16,17,18,19], "tickSize": -8, "title": null}}}},
  {"transform": [{"filter": "false"}], "mark": "point", "encoding": {
    "x": {"field": "d", "type": "quantitative", "axis": {"orient": "bottom", "values": [58880,58890,58910,58920,58930,58940,58960,58970,58980,58990,59010,59020,59030,59040,59060,59070,59080,59090,59110,59120,59130,59140,59160,59170,59180,59190,59210,59220,59230], "tickSize": -4, "title": null}},
    "y": {"field": "m", "type": "quantitative", "axis": {"orient": "left", "values": [15.2,15.4,15.6,15.8,16.2,16.4,16.6,16.8,17.2,17.4,17.6,17.8,18.2,18.4,18.6,18.8,19.2,19.4,19.6], "tickSize": -4, "title": null}}}},
  {"transform": [{"filter": "false"}], "mark": "point", "encoding": {
    "x": {"field": "d", "type": "quantitative", "axis": {"orient": "top", "values": [58880,58890,58910,58920,58930,58940,58960,58970,58980,58990,59010,59020,59030,59040,59060,59070,59080,59090,59110,59120,59130,59140,59160,59170,59180,59190,59210,59220,59230], "tickSize": -4, "title": null}},
    "y": {"field": "m", "type": "quantitative", "axis": {"orient": "right", "values": [15.2,15.4,15.6,15.8,16.2,16.4,16.6,16.8,17.2,17.4,17.6,17.8,18.2,18.4,18.6,18.8,19.2,19.4,19.6], "tickSize": -4, "title": null}}}}
 ],
 "resolve": {"axis": {"x": "independent", "y": "independent"}}
},
{"width": 786, "height": 183.4, "data": {"name": "p4"},
 "layer": [
  {"mark": {"type": "point", "filled": true, "stroke": "black", "strokeWidth": 1, "size": 100, "opacity": 1},
   "encoding": {
    "x": {"field": "d", "type": "quantitative", "scale": {"domain": [59235, 59600], "nice": false, "zero": false}, "axis": {"orient": "bottom", "values": [59250,59300,59350,59400,59450,59500,59550,59600], "tickSize": -8, "grid": true, "labels": true, "format": "d", "labelPadding": 16, "title": null}},
    "y": {"field": "m", "type": "quantitative", "scale": {"domain": [15, 19.68], "reverse": true, "nice": false, "zero": false}, "axis": {"orient": "left", "values": [15,16,17,18,19], "tickSize": -8, "grid": true, "labels": true, "format": "d", "labelPadding": 20, "title": "Magnitude", "titlePadding": 10}},
    "fill": {"field": "b", "type": "nominal", "scale": {"domain": ["ZTF r", "ZTF g"], "range": ["#ff0000", "#00ff00"]}, "legend": null}
   }},
  {"transform": [{"filter": "false"}], "mark": "point", "encoding": {
    "x": {"field": "d", "type": "quantitative", "axis": {"orient": "top", "values": [59250,59300,59350,59400,59450,59500,59550,59600], "tickSize": -8, "title": null}},
    "y": {"field": "m", "type": "quantitative", "axis": {"orient": "right", "values": [15,16,17,18,19], "tickSize": -8, "title": null}}}},
  {"transform": [{"filter": "false"}], "mark": "point", "encoding": {
    "x": {"field": "d", "type": "quantitative", "axis": {"orient": "bottom", "values": [59240,59260,59270,59280,59290,59310,59320,59330,59340,59360,59370,59380,59390,59410,59420,59430,59440,59460,59470,59480,59490,59510,59520,59530,59540,59560,59570,59580,59590], "tickSize": -4, "title": null}},
    "y": {"field": "m", "type": "quantitative", "axis": {"orient": "left", "values": [15.2,15.4,15.6,15.8,16.2,16.4,16.6,16.8,17.2,17.4,17.6,17.8,18.2,18.4,18.6,18.8,19.2,19.4,19.6], "tickSize": -4, "title": null}}}},
  {"transform": [{"filter": "false"}], "mark": "point", "encoding": {
    "x": {"field": "d", "type": "quantitative", "axis": {"orient": "top", "values": [59240,59260,59270,59280,59290,59310,59320,59330,59340,59360,59370,59380,59390,59410,59420,59430,59440,59460,59470,59480,59490,59510,59520,59530,59540,59560,59570,59580,59590], "tickSize": -4, "title": null}},
    "y": {"field": "m", "type": "quantitative", "axis": {"orient": "right", "values": [15.2,15.4,15.6,15.8,16.2,16.4,16.6,16.8,17.2,17.4,17.6,17.8,18.2,18.4,18.6,18.8,19.2,19.4,19.6], "tickSize": -4, "title": null}}}}
 ],
 "resolve": {"axis": {"x": "independent", "y": "independent"}}
},
{"width": 786, "height": 183.4, "data": {"name": "p5"},
 "layer": [
  {"mark": {"type": "point", "filled": true, "stroke": "black", "strokeWidth": 1, "size": 100, "opacity": 1},
   "encoding": {
    "x": {"field": "d", "type": "quantitative", "scale": {"domain": [59600, 59965], "nice": false, "zero": false}, "axis": {"orient": "bottom", "values": [59600,59650,59700,59750,59800,59850,59900,59950], "tickSize": -8, "grid": true, "labels": true, "format": "d", "labelPadding": 13, "title": "BJD−2400000", "titlePadding": 1, "titleFontSize": 19}},
    "y": {"field": "m", "type": "quantitative", "scale": {"domain": [15, 19.68], "reverse": true, "nice": false, "zero": false}, "axis": {"orient": "left", "values": [15,16,17,18,19], "tickSize": -8, "grid": true, "labels": true, "format": "d", "labelPadding": 20, "title": "Magnitude", "titlePadding": 10}},
    "fill": {"field": "b", "type": "nominal", "scale": {"domain": ["ZTF r", "ZTF g"], "range": ["#ff0000", "#00ff00"]}, "legend": null}
   }},
  {"transform": [{"filter": "false"}], "mark": "point", "encoding": {
    "x": {"field": "d", "type": "quantitative", "axis": {"orient": "top", "values": [59600,59650,59700,59750,59800,59850,59900,59950], "tickSize": -8, "title": null}},
    "y": {"field": "m", "type": "quantitative", "axis": {"orient": "right", "values": [15,16,17,18,19], "tickSize": -8, "title": null}}}},
  {"transform": [{"filter": "false"}], "mark": "point", "encoding": {
    "x": {"field": "d", "type": "quantitative", "axis": {"orient": "bottom", "values": [59610,59620,59630,59640,59660,59670,59680,59690,59710,59720,59730,59740,59760,59770,59780,59790,59810,59820,59830,59840,59860,59870,59880,59890,59910,59920,59930,59940,59960], "tickSize": -4, "title": null}},
    "y": {"field": "m", "type": "quantitative", "axis": {"orient": "left", "values": [15.2,15.4,15.6,15.8,16.2,16.4,16.6,16.8,17.2,17.4,17.6,17.8,18.2,18.4,18.6,18.8,19.2,19.4,19.6], "tickSize": -4, "title": null}}}},
  {"transform": [{"filter": "false"}], "mark": "point", "encoding": {
    "x": {"field": "d", "type": "quantitative", "axis": {"orient": "top", "values": [59610,59620,59630,59640,59660,59670,59680,59690,59710,59720,59730,59740,59760,59770,59780,59790,59810,59820,59830,59840,59860,59870,59880,59890,59910,59920,59930,59940,59960], "tickSize": -4, "title": null}},
    "y": {"field": "m", "type": "quantitative", "axis": {"orient": "right", "values": [15.2,15.4,15.6,15.8,16.2,16.4,16.6,16.8,17.2,17.4,17.6,17.8,18.2,18.4,18.6,18.8,19.2,19.4,19.6], "tickSize": -4, "title": null}}}}
 ],
 "resolve": {"axis": {"x": "independent", "y": "independent"}}
}
],
"resolve": {"scale": {"fill": "independent"}},
"config": {
 "view": {"stroke": "black", "strokeWidth": 2},
 "axis": {"domain": false, "grid": false, "labels": false, "ticks": true, "tickColor": "black", "tickWidth": 1, "labelFont": "Liberation Sans", "labelFontSize": 16.5, "labelColor": "black", "labelFlush": false, "labelOverlap": false, "titleFont": "DejaVu Serif", "titleFontSize": 20, "titleFontWeight": "normal", "titleColor": "black", "gridColor": "#8a8a8a", "gridDash": [2, 5], "gridWidth": 1}
}
}
